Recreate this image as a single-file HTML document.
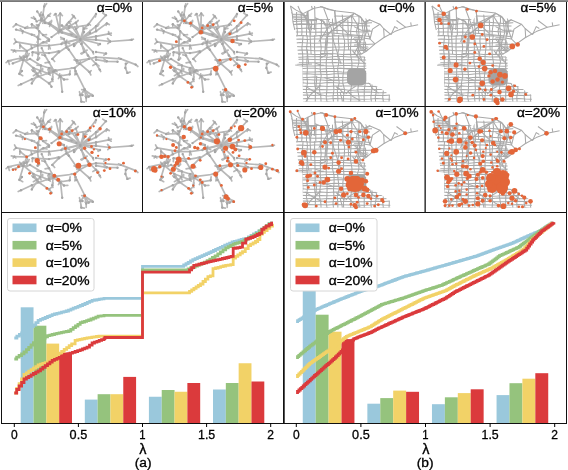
<!DOCTYPE html>
<html><head><meta charset="utf-8"><style>
html,body{margin:0;padding:0;background:#fff;}
svg{display:block;will-change:transform;}
.lg{font-family:"Liberation Sans",sans-serif;font-size:12px;fill:#000;stroke:#000;stroke-width:0.3px;}
.tl{font-family:"Liberation Sans",sans-serif;font-size:12px;fill:#000;text-anchor:middle;stroke:#000;stroke-width:0.3px;}
.tk{font-family:"Liberation Sans",sans-serif;font-size:12px;fill:#000;text-anchor:middle;stroke:#000;stroke-width:0.3px;}
</style></head><body>
<svg width="568" height="470" viewBox="0 0 568 470">
<rect width="568" height="470" fill="#fff"/>
<defs><g id="gA"><g fill="none" stroke="#b8b8b8" stroke-width="1.7" stroke-linecap="round" stroke-linejoin="round">
<polyline points="44.2,6.5 42.9,14.8 40.9,19.7"/>
<polyline points="37.2,11.4 40.0,15.2 41.7,18.5"/>
<polyline points="48.3,15.6 44.2,20.5 41.7,20.5"/>
<polyline points="35.1,18.9 36.7,21.4"/>
<polyline points="41.7,20.5 38.4,25.5 36.7,28.0"/>
<polyline points="16.1,24.3 25.2,28.0 36.7,27.6"/>
<polyline points="16.1,29.6 22.7,31.3 31.8,34.6 37.6,37.5"/>
<polyline points="31.8,24.3 36.7,28.0 39.2,31.3 37.6,45.6"/>
<polyline points="39.2,31.3 43.0,35.0 49.0,39.5"/>
<polyline points="41.7,20.5 49.0,23.5 60.0,30.0"/>
<polyline points="45.1,23.0 49.4,24.2 58.7,31.6"/>
<polyline points="55.6,13.9 59.8,31.3"/>
<polyline points="60.2,13.5 59.8,31.3"/>
<polyline points="73.8,16.4 66.8,24.7 61.0,30.0"/>
<polyline points="75.9,22.6 69.3,26.3 60.0,31.0"/>
<polyline points="50.2,24.3 59.8,31.3"/>
<polyline points="59.8,31.3 71.5,34.6 76.3,37.1 80.3,38.9"/>
<polyline points="59.8,31.3 51.5,37.1"/>
<polyline points="68.9,28.0 87.9,25.1"/>
<polyline points="96.0,13.9 88.7,23.9 83.7,28.8 80.3,38.9"/>
<polyline points="105.9,15.2 96.0,26.3 80.3,38.9"/>
<polyline points="106.8,23.4 96.0,31.3 80.3,38.9"/>
<polyline points="108.8,33.8 96.0,36.3 80.3,38.9"/>
<polyline points="131.6,39.8 110.1,41.5 96.0,39.8 80.3,38.9"/>
<polyline points="62.0,25.5 80.3,38.9"/>
<polyline points="62.0,32.6 80.3,38.9"/>
<polyline points="69.0,22.0 80.3,38.9"/>
<polyline points="76.0,29.0 80.3,38.9"/>
<polyline points="80.3,38.9 84.0,32.0"/>
<polyline points="80.3,38.9 90.0,33.0"/>
<polyline points="80.3,38.9 100.0,44.0"/>
<polyline points="80.3,38.9 84.0,52.0"/>
<polyline points="80.3,38.9 93.0,52.0"/>
<polyline points="80.3,38.9 74.0,46.0"/>
<polyline points="80.3,38.9 66.0,42.0"/>
<polyline points="16.1,41.9 37.6,45.6"/>
<polyline points="37.6,45.6 43.4,42.3 49.0,40.7"/>
<polyline points="38.4,39.0 37.6,45.6"/>
<polyline points="37.6,45.6 49.0,45.6 61.4,44.0 80.3,38.9"/>
<polyline points="14.4,50.6 26.8,51.0 31.8,48.3 37.6,45.6"/>
<polyline points="20.2,45.6 26.8,51.0"/>
<polyline points="26.8,51.0 24.3,57.2 19.4,73.7"/>
<polyline points="8.2,60.9 21.0,58.0 26.8,56.4"/>
<polyline points="12.8,63.4 22.7,59.7"/>
<polyline points="32.6,52.2 49.0,53.1 58.9,51.4"/>
<polyline points="37.6,45.6 38.4,53.9 37.6,59.7"/>
<polyline points="41.7,48.1 45.0,55.5 49.0,62.2 54.0,71.3"/>
<polyline points="30.1,58.9 40.9,65.5 49.0,68.0 55.6,70.4"/>
<polyline points="23.5,59.7 33.4,68.0 36.7,73.7"/>
<polyline points="33.4,68.0 49.0,73.7 53.1,71.8"/>
<polyline points="52.3,58.9 58.9,52.2 66.4,47.3 73.8,44.0 80.3,40.0"/>
<polyline points="63.9,39.0 65.5,43.1 68.9,49.8 76.3,60.5 89.5,72.1"/>
<polyline points="81.3,44.0 87.9,55.5 96.0,63.8"/>
<polyline points="77.1,60.5 88.7,58.9 96.0,57.2 120.8,58.9 135.7,64.6"/>
<polyline points="55.6,70.4 74.6,68.0 79.6,63.8 88.7,58.9"/>
<polyline points="74.6,68.0 76.3,74.0"/>
<polyline points="96.0,59.7 106.8,61.3 117.5,61.7"/>
<polyline points="96.0,63.8 99.7,69.6"/>
<polyline points="125.8,63.8 125.4,68.0 127.4,72.9"/>
<polyline points="96.0,52.0 106.0,53.5"/>
<polyline points="21.0,84.2 31.8,79.3 49.0,72.7"/>
<polyline points="33.4,71.0 38.4,76.0 49.0,83.4"/>
<polyline points="40.0,71.0 31.8,83.4"/>
<polyline points="21.9,71.0 19.4,74.3"/>
<polyline points="53.1,71.8 59.8,76.0 69.7,74.3"/>
<polyline points="53.1,71.8 52.3,79.3"/>
<polyline points="60.6,76.8 62.2,91.7"/>
<polyline points="60.6,76.8 64.0,79.5"/>
<polyline points="49.0,82.6 51.5,86.7"/>
<polyline points="75.5,71.0 84.6,89.2"/>
<polyline points="84.6,90.0 80.4,95.0 81.3,101.6"/>
<polyline points="84.6,90.0 92.8,95.8"/>
<polyline points="84.6,90.0 86.2,97.5"/>
<polyline points="84.6,90.0 88.7,96.6"/>
<polyline points="79.5,95.0 82.5,95.0"/>
<line x1="44.2" y1="6.5" x2="46.6" y2="3.7"/>
<line x1="44.2" y1="6.5" x2="44.7" y2="3.8"/>
<line x1="42.9" y1="14.8" x2="44.2" y2="18.1"/>
<line x1="42.9" y1="14.8" x2="39.8" y2="15.3"/>
<line x1="40.9" y1="19.7" x2="42.9" y2="21.1"/>
<line x1="40.0" y1="15.2" x2="41.2" y2="12.1"/>
<line x1="40.0" y1="15.2" x2="43.8" y2="16.2"/>
<line x1="41.7" y1="18.5" x2="39.9" y2="15.9"/>
<line x1="41.7" y1="18.5" x2="42.7" y2="20.0"/>
<line x1="48.3" y1="15.6" x2="50.0" y2="16.3"/>
<line x1="48.3" y1="15.6" x2="50.6" y2="13.5"/>
<line x1="44.2" y1="20.5" x2="42.8" y2="23.3"/>
<line x1="44.2" y1="20.5" x2="45.0" y2="22.7"/>
<line x1="41.7" y1="20.5" x2="38.4" y2="20.5"/>
<line x1="35.1" y1="18.9" x2="33.6" y2="16.7"/>
<line x1="35.1" y1="18.9" x2="31.4" y2="17.7"/>
<line x1="38.4" y1="25.5" x2="38.3" y2="29.0"/>
<line x1="38.4" y1="25.5" x2="36.5" y2="25.3"/>
<line x1="38.4" y1="25.5" x2="36.5" y2="24.7"/>
<line x1="16.1" y1="24.3" x2="13.1" y2="26.9"/>
<line x1="25.2" y1="28.0" x2="27.5" y2="28.0"/>
<line x1="25.2" y1="28.0" x2="27.6" y2="26.5"/>
<line x1="25.2" y1="28.0" x2="27.9" y2="27.7"/>
<line x1="22.7" y1="31.3" x2="20.3" y2="28.7"/>
<line x1="22.7" y1="31.3" x2="22.5" y2="33.3"/>
<line x1="31.8" y1="34.6" x2="34.5" y2="34.9"/>
<line x1="31.8" y1="24.3" x2="31.8" y2="26.3"/>
<line x1="37.6" y1="45.6" x2="38.2" y2="43.5"/>
<line x1="37.6" y1="45.6" x2="35.0" y2="44.6"/>
<line x1="43.0" y1="35.0" x2="46.5" y2="34.7"/>
<line x1="49.0" y1="39.5" x2="47.7" y2="37.9"/>
<line x1="49.0" y1="39.5" x2="47.0" y2="40.6"/>
<line x1="49.0" y1="23.5" x2="51.6" y2="20.5"/>
<line x1="60.0" y1="30.0" x2="58.7" y2="33.5"/>
<line x1="60.0" y1="30.0" x2="60.7" y2="32.6"/>
<line x1="45.1" y1="23.0" x2="43.8" y2="21.4"/>
<line x1="45.1" y1="23.0" x2="47.4" y2="22.8"/>
<line x1="58.7" y1="31.6" x2="61.8" y2="31.8"/>
<line x1="55.6" y1="13.9" x2="54.1" y2="15.2"/>
<line x1="59.8" y1="31.3" x2="57.8" y2="30.1"/>
<line x1="60.2" y1="13.5" x2="58.1" y2="15.8"/>
<line x1="60.2" y1="13.5" x2="62.4" y2="15.7"/>
<line x1="73.8" y1="16.4" x2="75.5" y2="18.4"/>
<line x1="73.8" y1="16.4" x2="72.1" y2="14.6"/>
<line x1="66.8" y1="24.7" x2="67.8" y2="22.6"/>
<line x1="61.0" y1="30.0" x2="62.7" y2="32.7"/>
<line x1="75.9" y1="22.6" x2="77.2" y2="26.3"/>
<line x1="75.9" y1="22.6" x2="78.2" y2="20.5"/>
<line x1="69.3" y1="26.3" x2="71.3" y2="26.9"/>
<line x1="69.3" y1="26.3" x2="66.9" y2="26.1"/>
<line x1="50.2" y1="24.3" x2="49.5" y2="22.0"/>
<line x1="50.2" y1="24.3" x2="51.6" y2="21.5"/>
<line x1="50.2" y1="24.3" x2="49.6" y2="26.4"/>
<line x1="71.5" y1="34.6" x2="73.6" y2="34.3"/>
<line x1="71.5" y1="34.6" x2="68.3" y2="35.0"/>
<line x1="71.5" y1="34.6" x2="70.0" y2="33.3"/>
<line x1="76.3" y1="37.1" x2="78.3" y2="36.0"/>
<line x1="68.9" y1="28.0" x2="66.9" y2="29.2"/>
<line x1="96.0" y1="13.9" x2="95.4" y2="16.8"/>
<line x1="88.7" y1="23.9" x2="90.5" y2="25.1"/>
<line x1="83.7" y1="28.8" x2="86.9" y2="28.4"/>
<line x1="83.7" y1="28.8" x2="82.6" y2="25.9"/>
<line x1="105.9" y1="15.2" x2="102.7" y2="13.1"/>
<line x1="96.0" y1="26.3" x2="98.8" y2="24.5"/>
<line x1="96.0" y1="26.3" x2="97.8" y2="25.9"/>
<line x1="106.8" y1="23.4" x2="108.5" y2="24.3"/>
<line x1="106.8" y1="23.4" x2="106.0" y2="25.3"/>
<line x1="106.8" y1="23.4" x2="109.3" y2="24.6"/>
<line x1="96.0" y1="31.3" x2="95.7" y2="27.5"/>
<line x1="108.8" y1="33.8" x2="108.6" y2="31.7"/>
<line x1="108.8" y1="33.8" x2="111.3" y2="33.2"/>
<line x1="108.8" y1="33.8" x2="111.2" y2="35.2"/>
<line x1="131.6" y1="39.8" x2="133.4" y2="39.2"/>
<line x1="131.6" y1="39.8" x2="129.8" y2="39.8"/>
<line x1="110.1" y1="41.5" x2="107.8" y2="43.6"/>
<line x1="110.1" y1="41.5" x2="108.6" y2="40.3"/>
<line x1="110.1" y1="41.5" x2="107.5" y2="38.4"/>
<line x1="96.0" y1="39.8" x2="95.6" y2="37.2"/>
<line x1="96.0" y1="39.8" x2="95.7" y2="36.7"/>
<line x1="62.0" y1="25.5" x2="59.1" y2="26.2"/>
<line x1="62.0" y1="25.5" x2="59.1" y2="25.2"/>
<line x1="62.0" y1="32.6" x2="59.7" y2="30.9"/>
<line x1="69.0" y1="22.0" x2="71.0" y2="21.5"/>
<line x1="76.0" y1="29.0" x2="74.5" y2="26.6"/>
<line x1="76.0" y1="29.0" x2="78.1" y2="27.4"/>
<line x1="84.0" y1="32.0" x2="83.0" y2="30.0"/>
<line x1="90.0" y1="33.0" x2="90.1" y2="30.4"/>
<line x1="100.0" y1="44.0" x2="97.7" y2="44.0"/>
<line x1="100.0" y1="44.0" x2="98.1" y2="45.3"/>
<line x1="84.0" y1="52.0" x2="80.8" y2="53.5"/>
<line x1="84.0" y1="52.0" x2="87.2" y2="50.1"/>
<line x1="84.0" y1="52.0" x2="81.7" y2="54.0"/>
<line x1="93.0" y1="52.0" x2="93.5" y2="54.0"/>
<line x1="74.0" y1="46.0" x2="75.9" y2="42.9"/>
<line x1="66.0" y1="42.0" x2="69.6" y2="43.6"/>
<line x1="66.0" y1="42.0" x2="66.9" y2="40.2"/>
<line x1="66.0" y1="42.0" x2="62.2" y2="42.7"/>
<line x1="16.1" y1="41.9" x2="13.9" y2="43.9"/>
<line x1="16.1" y1="41.9" x2="14.5" y2="38.9"/>
<line x1="43.4" y1="42.3" x2="41.5" y2="42.9"/>
<line x1="43.4" y1="42.3" x2="47.0" y2="43.0"/>
<line x1="38.4" y1="39.0" x2="37.6" y2="36.0"/>
<line x1="38.4" y1="39.0" x2="37.1" y2="42.3"/>
<line x1="38.4" y1="39.0" x2="40.5" y2="39.3"/>
<line x1="49.0" y1="45.6" x2="50.3" y2="48.8"/>
<line x1="49.0" y1="45.6" x2="48.6" y2="49.1"/>
<line x1="14.4" y1="50.6" x2="15.9" y2="52.0"/>
<line x1="14.4" y1="50.6" x2="11.3" y2="49.9"/>
<line x1="14.4" y1="50.6" x2="13.1" y2="52.0"/>
<line x1="26.8" y1="51.0" x2="27.7" y2="53.7"/>
<line x1="31.8" y1="48.3" x2="31.0" y2="44.9"/>
<line x1="20.2" y1="45.6" x2="19.7" y2="43.5"/>
<line x1="20.2" y1="45.6" x2="19.8" y2="48.1"/>
<line x1="24.3" y1="57.2" x2="27.0" y2="56.2"/>
<line x1="24.3" y1="57.2" x2="26.4" y2="57.2"/>
<line x1="24.3" y1="57.2" x2="26.2" y2="54.5"/>
<line x1="19.4" y1="73.7" x2="22.7" y2="75.7"/>
<line x1="8.2" y1="60.9" x2="6.1" y2="62.7"/>
<line x1="8.2" y1="60.9" x2="9.4" y2="64.4"/>
<line x1="8.2" y1="60.9" x2="11.2" y2="61.0"/>
<line x1="21.0" y1="58.0" x2="23.6" y2="55.6"/>
<line x1="21.0" y1="58.0" x2="23.6" y2="57.0"/>
<line x1="21.0" y1="58.0" x2="19.7" y2="56.2"/>
<line x1="26.8" y1="56.4" x2="29.2" y2="53.7"/>
<line x1="26.8" y1="56.4" x2="28.6" y2="55.5"/>
<line x1="26.8" y1="56.4" x2="26.9" y2="59.1"/>
<line x1="22.7" y1="59.7" x2="19.3" y2="58.9"/>
<line x1="32.6" y1="52.2" x2="32.3" y2="55.6"/>
<line x1="58.9" y1="51.4" x2="57.0" y2="51.3"/>
<line x1="38.4" y1="53.9" x2="35.1" y2="52.8"/>
<line x1="37.6" y1="59.7" x2="39.6" y2="58.6"/>
<line x1="37.6" y1="59.7" x2="39.4" y2="57.7"/>
<line x1="45.0" y1="55.5" x2="41.8" y2="54.8"/>
<line x1="49.0" y1="62.2" x2="45.1" y2="62.9"/>
<line x1="54.0" y1="71.3" x2="50.7" y2="70.9"/>
<line x1="54.0" y1="71.3" x2="50.5" y2="72.7"/>
<line x1="54.0" y1="71.3" x2="51.1" y2="69.7"/>
<line x1="30.1" y1="58.9" x2="27.3" y2="60.0"/>
<line x1="40.9" y1="65.5" x2="38.9" y2="64.7"/>
<line x1="40.9" y1="65.5" x2="37.1" y2="65.2"/>
<line x1="40.9" y1="65.5" x2="40.8" y2="68.8"/>
<line x1="49.0" y1="68.0" x2="50.0" y2="71.5"/>
<line x1="49.0" y1="68.0" x2="51.9" y2="67.4"/>
<line x1="55.6" y1="70.4" x2="52.9" y2="70.4"/>
<line x1="55.6" y1="70.4" x2="57.0" y2="71.6"/>
<line x1="23.5" y1="59.7" x2="27.4" y2="60.4"/>
<line x1="23.5" y1="59.7" x2="20.8" y2="59.4"/>
<line x1="33.4" y1="68.0" x2="34.8" y2="69.4"/>
<line x1="33.4" y1="68.0" x2="35.3" y2="71.3"/>
<line x1="36.7" y1="73.7" x2="33.4" y2="75.7"/>
<line x1="36.7" y1="73.7" x2="38.8" y2="72.6"/>
<line x1="49.0" y1="73.7" x2="46.5" y2="73.8"/>
<line x1="49.0" y1="73.7" x2="52.1" y2="71.4"/>
<line x1="53.1" y1="71.8" x2="51.1" y2="71.5"/>
<line x1="53.1" y1="71.8" x2="51.5" y2="72.7"/>
<line x1="52.3" y1="58.9" x2="54.7" y2="61.5"/>
<line x1="73.8" y1="44.0" x2="74.8" y2="45.5"/>
<line x1="80.3" y1="40.0" x2="79.2" y2="42.3"/>
<line x1="63.9" y1="39.0" x2="61.0" y2="39.0"/>
<line x1="63.9" y1="39.0" x2="60.7" y2="37.2"/>
<line x1="65.5" y1="43.1" x2="65.5" y2="45.3"/>
<line x1="65.5" y1="43.1" x2="62.8" y2="42.6"/>
<line x1="68.9" y1="49.8" x2="66.5" y2="47.1"/>
<line x1="68.9" y1="49.8" x2="66.7" y2="47.8"/>
<line x1="76.3" y1="60.5" x2="74.1" y2="60.0"/>
<line x1="76.3" y1="60.5" x2="76.9" y2="63.4"/>
<line x1="76.3" y1="60.5" x2="74.5" y2="59.4"/>
<line x1="89.5" y1="72.1" x2="87.7" y2="70.3"/>
<line x1="89.5" y1="72.1" x2="90.8" y2="74.9"/>
<line x1="89.5" y1="72.1" x2="91.2" y2="70.7"/>
<line x1="81.3" y1="44.0" x2="82.9" y2="42.6"/>
<line x1="87.9" y1="55.5" x2="89.2" y2="57.0"/>
<line x1="96.0" y1="63.8" x2="99.0" y2="65.9"/>
<line x1="96.0" y1="63.8" x2="92.9" y2="65.5"/>
<line x1="77.1" y1="60.5" x2="78.1" y2="63.5"/>
<line x1="120.8" y1="58.9" x2="118.5" y2="57.8"/>
<line x1="135.7" y1="64.6" x2="137.9" y2="66.5"/>
<line x1="74.6" y1="68.0" x2="71.3" y2="67.9"/>
<line x1="79.6" y1="63.8" x2="80.5" y2="61.1"/>
<line x1="106.8" y1="61.3" x2="103.9" y2="58.8"/>
<line x1="106.8" y1="61.3" x2="104.6" y2="61.6"/>
<line x1="99.7" y1="69.6" x2="100.7" y2="71.5"/>
<line x1="125.8" y1="63.8" x2="127.6" y2="62.9"/>
<line x1="127.4" y1="72.9" x2="130.1" y2="72.1"/>
<line x1="106.0" y1="53.5" x2="103.9" y2="55.2"/>
<line x1="21.0" y1="84.2" x2="18.2" y2="85.5"/>
<line x1="49.0" y1="72.7" x2="47.9" y2="69.2"/>
<line x1="49.0" y1="72.7" x2="50.2" y2="75.2"/>
<line x1="49.0" y1="72.7" x2="48.8" y2="70.0"/>
<line x1="33.4" y1="71.0" x2="31.8" y2="69.8"/>
<line x1="49.0" y1="83.4" x2="51.8" y2="81.2"/>
<line x1="40.0" y1="71.0" x2="42.7" y2="68.3"/>
<line x1="40.0" y1="71.0" x2="42.8" y2="69.9"/>
<line x1="40.0" y1="71.0" x2="41.1" y2="73.9"/>
<line x1="31.8" y1="83.4" x2="32.6" y2="81.2"/>
<line x1="59.8" y1="76.0" x2="59.7" y2="73.9"/>
<line x1="59.8" y1="76.0" x2="61.7" y2="75.2"/>
<line x1="59.8" y1="76.0" x2="58.4" y2="78.6"/>
<line x1="69.7" y1="74.3" x2="70.1" y2="70.8"/>
<line x1="52.3" y1="79.3" x2="52.9" y2="81.4"/>
<line x1="52.3" y1="79.3" x2="53.0" y2="76.9"/>
<line x1="64.0" y1="79.5" x2="67.8" y2="79.3"/>
<line x1="75.5" y1="71.0" x2="74.9" y2="74.9"/>
<line x1="84.6" y1="89.2" x2="82.9" y2="92.0"/>
<line x1="84.6" y1="90.0" x2="85.4" y2="91.8"/>
<line x1="84.6" y1="90.0" x2="81.7" y2="89.7"/>
<line x1="80.4" y1="95.0" x2="79.4" y2="91.7"/>
<line x1="81.3" y1="101.6" x2="84.4" y2="102.1"/>
<line x1="81.3" y1="101.6" x2="81.1" y2="99.2"/>
<line x1="92.8" y1="95.8" x2="89.3" y2="95.7"/>
<line x1="92.8" y1="95.8" x2="91.7" y2="94.3"/>
<line x1="86.2" y1="97.5" x2="86.2" y2="101.3"/>
<line x1="88.7" y1="96.6" x2="86.1" y2="95.9"/>
<line x1="88.7" y1="96.6" x2="85.1" y2="96.1"/>
</g><g fill="#a6a6a6">
<circle cx="44.2" cy="6.5" r="1.2"/>
<circle cx="42.9" cy="14.8" r="1.2"/>
<circle cx="40.9" cy="19.7" r="1.2"/>
<circle cx="37.2" cy="11.4" r="1.2"/>
<circle cx="40.0" cy="15.2" r="1.2"/>
<circle cx="41.7" cy="18.5" r="1.2"/>
<circle cx="48.3" cy="15.6" r="1.2"/>
<circle cx="44.2" cy="20.5" r="1.2"/>
<circle cx="41.7" cy="20.5" r="1.2"/>
<circle cx="35.1" cy="18.9" r="1.2"/>
<circle cx="36.7" cy="21.4" r="1.2"/>
<circle cx="38.4" cy="25.5" r="1.2"/>
<circle cx="36.7" cy="28.0" r="1.2"/>
<circle cx="16.1" cy="24.3" r="1.2"/>
<circle cx="25.2" cy="28.0" r="1.2"/>
<circle cx="16.1" cy="29.6" r="1.2"/>
<circle cx="22.7" cy="31.3" r="1.2"/>
<circle cx="31.8" cy="34.6" r="1.2"/>
<circle cx="37.6" cy="37.5" r="1.2"/>
<circle cx="31.8" cy="24.3" r="1.2"/>
<circle cx="39.2" cy="31.3" r="1.2"/>
<circle cx="37.6" cy="45.6" r="1.2"/>
<circle cx="43.0" cy="35.0" r="1.2"/>
<circle cx="49.0" cy="39.5" r="1.2"/>
<circle cx="49.0" cy="23.5" r="1.2"/>
<circle cx="60.0" cy="30.0" r="1.2"/>
<circle cx="45.1" cy="23.0" r="1.2"/>
<circle cx="58.7" cy="31.6" r="1.2"/>
<circle cx="55.6" cy="13.9" r="1.2"/>
<circle cx="59.8" cy="31.3" r="1.2"/>
<circle cx="60.2" cy="13.5" r="1.2"/>
<circle cx="73.8" cy="16.4" r="1.2"/>
<circle cx="66.8" cy="24.7" r="1.2"/>
<circle cx="61.0" cy="30.0" r="1.2"/>
<circle cx="75.9" cy="22.6" r="1.2"/>
<circle cx="69.3" cy="26.3" r="1.2"/>
<circle cx="50.2" cy="24.3" r="1.2"/>
<circle cx="71.5" cy="34.6" r="1.2"/>
<circle cx="76.3" cy="37.1" r="1.2"/>
<circle cx="80.3" cy="38.9" r="1.2"/>
<circle cx="51.5" cy="37.1" r="1.2"/>
<circle cx="68.9" cy="28.0" r="1.2"/>
<circle cx="87.9" cy="25.1" r="1.2"/>
<circle cx="96.0" cy="13.9" r="1.2"/>
<circle cx="88.7" cy="23.9" r="1.2"/>
<circle cx="83.7" cy="28.8" r="1.2"/>
<circle cx="105.9" cy="15.2" r="1.2"/>
<circle cx="96.0" cy="26.3" r="1.2"/>
<circle cx="106.8" cy="23.4" r="1.2"/>
<circle cx="96.0" cy="31.3" r="1.2"/>
<circle cx="108.8" cy="33.8" r="1.2"/>
<circle cx="96.0" cy="36.3" r="1.2"/>
<circle cx="131.6" cy="39.8" r="1.2"/>
<circle cx="110.1" cy="41.5" r="1.2"/>
<circle cx="96.0" cy="39.8" r="1.2"/>
<circle cx="62.0" cy="25.5" r="1.2"/>
<circle cx="62.0" cy="32.6" r="1.2"/>
<circle cx="69.0" cy="22.0" r="1.2"/>
<circle cx="76.0" cy="29.0" r="1.2"/>
<circle cx="84.0" cy="32.0" r="1.2"/>
<circle cx="90.0" cy="33.0" r="1.2"/>
<circle cx="100.0" cy="44.0" r="1.2"/>
<circle cx="84.0" cy="52.0" r="1.2"/>
<circle cx="93.0" cy="52.0" r="1.2"/>
<circle cx="74.0" cy="46.0" r="1.2"/>
<circle cx="66.0" cy="42.0" r="1.2"/>
<circle cx="16.1" cy="41.9" r="1.2"/>
<circle cx="43.4" cy="42.3" r="1.2"/>
<circle cx="49.0" cy="40.7" r="1.2"/>
<circle cx="38.4" cy="39.0" r="1.2"/>
<circle cx="49.0" cy="45.6" r="1.2"/>
<circle cx="61.4" cy="44.0" r="1.2"/>
<circle cx="14.4" cy="50.6" r="1.2"/>
<circle cx="26.8" cy="51.0" r="1.2"/>
<circle cx="31.8" cy="48.3" r="1.2"/>
<circle cx="20.2" cy="45.6" r="1.2"/>
<circle cx="24.3" cy="57.2" r="1.2"/>
<circle cx="19.4" cy="73.7" r="1.2"/>
<circle cx="8.2" cy="60.9" r="1.2"/>
<circle cx="21.0" cy="58.0" r="1.2"/>
<circle cx="26.8" cy="56.4" r="1.2"/>
<circle cx="12.8" cy="63.4" r="1.2"/>
<circle cx="22.7" cy="59.7" r="1.2"/>
<circle cx="32.6" cy="52.2" r="1.2"/>
<circle cx="49.0" cy="53.1" r="1.2"/>
<circle cx="58.9" cy="51.4" r="1.2"/>
<circle cx="38.4" cy="53.9" r="1.2"/>
<circle cx="37.6" cy="59.7" r="1.2"/>
<circle cx="41.7" cy="48.1" r="1.2"/>
<circle cx="45.0" cy="55.5" r="1.2"/>
<circle cx="49.0" cy="62.2" r="1.2"/>
<circle cx="54.0" cy="71.3" r="1.2"/>
<circle cx="30.1" cy="58.9" r="1.2"/>
<circle cx="40.9" cy="65.5" r="1.2"/>
<circle cx="49.0" cy="68.0" r="1.2"/>
<circle cx="55.6" cy="70.4" r="1.2"/>
<circle cx="23.5" cy="59.7" r="1.2"/>
<circle cx="33.4" cy="68.0" r="1.2"/>
<circle cx="36.7" cy="73.7" r="1.2"/>
<circle cx="49.0" cy="73.7" r="1.2"/>
<circle cx="53.1" cy="71.8" r="1.2"/>
<circle cx="52.3" cy="58.9" r="1.2"/>
<circle cx="58.9" cy="52.2" r="1.2"/>
<circle cx="66.4" cy="47.3" r="1.2"/>
<circle cx="73.8" cy="44.0" r="1.2"/>
<circle cx="80.3" cy="40.0" r="1.2"/>
<circle cx="63.9" cy="39.0" r="1.2"/>
<circle cx="65.5" cy="43.1" r="1.2"/>
<circle cx="68.9" cy="49.8" r="1.2"/>
<circle cx="76.3" cy="60.5" r="1.2"/>
<circle cx="89.5" cy="72.1" r="1.2"/>
<circle cx="81.3" cy="44.0" r="1.2"/>
<circle cx="87.9" cy="55.5" r="1.2"/>
<circle cx="96.0" cy="63.8" r="1.2"/>
<circle cx="77.1" cy="60.5" r="1.2"/>
<circle cx="88.7" cy="58.9" r="1.2"/>
<circle cx="96.0" cy="57.2" r="1.2"/>
<circle cx="120.8" cy="58.9" r="1.2"/>
<circle cx="135.7" cy="64.6" r="1.2"/>
<circle cx="74.6" cy="68.0" r="1.2"/>
<circle cx="79.6" cy="63.8" r="1.2"/>
<circle cx="76.3" cy="74.0" r="1.2"/>
<circle cx="96.0" cy="59.7" r="1.2"/>
<circle cx="106.8" cy="61.3" r="1.2"/>
<circle cx="117.5" cy="61.7" r="1.2"/>
<circle cx="99.7" cy="69.6" r="1.2"/>
<circle cx="125.8" cy="63.8" r="1.2"/>
<circle cx="125.4" cy="68.0" r="1.2"/>
<circle cx="127.4" cy="72.9" r="1.2"/>
<circle cx="96.0" cy="52.0" r="1.2"/>
<circle cx="106.0" cy="53.5" r="1.2"/>
<circle cx="21.0" cy="84.2" r="1.2"/>
<circle cx="31.8" cy="79.3" r="1.2"/>
<circle cx="49.0" cy="72.7" r="1.2"/>
<circle cx="33.4" cy="71.0" r="1.2"/>
<circle cx="38.4" cy="76.0" r="1.2"/>
<circle cx="49.0" cy="83.4" r="1.2"/>
<circle cx="40.0" cy="71.0" r="1.2"/>
<circle cx="31.8" cy="83.4" r="1.2"/>
<circle cx="21.9" cy="71.0" r="1.2"/>
<circle cx="59.8" cy="76.0" r="1.2"/>
<circle cx="69.7" cy="74.3" r="1.2"/>
<circle cx="52.3" cy="79.3" r="1.2"/>
<circle cx="60.6" cy="76.8" r="1.2"/>
<circle cx="62.2" cy="91.7" r="1.2"/>
<circle cx="64.0" cy="79.5" r="1.2"/>
<circle cx="51.5" cy="86.7" r="1.2"/>
<circle cx="75.5" cy="71.0" r="1.2"/>
<circle cx="84.6" cy="89.2" r="1.2"/>
<circle cx="84.6" cy="90.0" r="1.2"/>
<circle cx="80.4" cy="95.0" r="1.2"/>
<circle cx="81.3" cy="101.6" r="1.2"/>
<circle cx="92.8" cy="95.8" r="1.2"/>
<circle cx="86.2" cy="97.5" r="1.2"/>
<circle cx="88.7" cy="96.6" r="1.2"/>
<circle cx="82.5" cy="95.0" r="1.2"/>
</g></g>
<clipPath id="clipB"><polygon points="6.0,3.5 37.0,3.5 39.7,6.0 50.5,8.6 69.5,11.5 84.4,17.4 109.2,24.8 134.0,22.3 134.0,23.5 121.8,26.0 110.7,30.0 99.6,36.0 91.0,42.0 82.3,49.3 77.4,52.0 82.0,56.0 82.3,65.6 81.7,79.1 86.0,81.6 94.6,85.3 105.7,92.7 106.6,99.4 19.0,99.4 18.6,67.0 18.6,64.5 11.5,63.8 11.5,62.2 14.9,61.0 13.7,49.7 12.4,37.2 11.2,19.9 7.4,11.1"/></clipPath>
<clipPath id="clipD"><polygon points="2.0,33.0 78.0,33.0 86.0,48.0 116.0,48.0 116.0,103.0 2.0,103.0"/></clipPath>
<clipPath id="clipW"><polygon points="2.0,10.0 22.0,10.0 26.0,17.0 46.0,17.0 46.0,33.5 2.0,33.5"/></clipPath>
<clipPath id="clipN"><polygon points="52.0,12.0 88.0,16.0 88.0,34.0 46.0,34.0 46.0,20.0"/></clipPath>
<g id="gB" fill="none" stroke="#a9a9a9" stroke-width="1.05" stroke-linejoin="round">
<g clip-path="url(#clipB)">
<g clip-path="url(#clipD)">
<polyline points="2.0,34.1 9.0,34.3 16.0,33.6 23.0,34.1 30.0,34.3 37.0,33.5 44.0,34.4 51.0,33.7 58.0,34.0 65.0,33.7 72.0,34.0 79.0,34.1 86.0,33.6 93.0,34.4 100.0,33.9 107.0,34.0 114.0,34.1 121.0,33.9"/>
<polyline points="2.0,37.5 9.0,37.4 16.0,37.1 23.0,37.6 30.0,37.1 37.0,36.9 44.0,37.1 51.0,36.9 58.0,37.0 65.0,37.6 72.0,37.2 79.0,37.7 86.0,37.6 93.0,36.9 100.0,37.8 107.0,37.8 114.0,36.9 121.0,37.7"/>
<polyline points="2.0,40.8 9.0,41.3 16.0,40.6 23.0,40.9 30.0,41.3 37.0,41.1 44.0,40.8 51.0,41.3 58.0,41.2 65.0,41.0 72.0,40.5 79.0,41.0 86.0,40.8 93.0,40.6 100.0,40.4 107.0,40.9 114.0,40.5 121.0,40.8"/>
<polyline points="2.0,44.6 9.0,44.4 16.0,44.7 23.0,44.6 30.0,44.9 37.0,44.7 44.0,45.2 51.0,45.1 58.0,44.9 65.0,44.4 72.0,44.3 79.0,45.1 86.0,44.9 93.0,44.8 100.0,44.5 107.0,44.4 114.0,44.8 121.0,44.7"/>
<polyline points="2.0,48.5 9.0,48.6 16.0,48.1 23.0,48.1 30.0,48.8 37.0,48.8 44.0,48.7 51.0,47.9 58.0,47.9 65.0,48.1 72.0,48.3 79.0,48.5 86.0,48.0 93.0,48.4 100.0,47.9 107.0,48.0 114.0,48.5 121.0,48.4"/>
<polyline points="2.0,52.0 9.0,52.1 16.0,51.8 23.0,52.0 30.0,52.4 37.0,52.5 44.0,51.7 51.0,51.7 58.0,52.4 65.0,52.3 72.0,52.4 79.0,51.8 86.0,52.1 93.0,51.9 100.0,52.4 107.0,52.0 114.0,52.3 121.0,52.6"/>
<polyline points="2.0,54.9 9.0,55.1 16.0,55.3 23.0,54.8 30.0,54.7 37.0,54.4 44.0,55.2 51.0,54.4 58.0,54.4 65.0,54.9 72.0,54.8 79.0,55.0 86.0,54.7 93.0,55.1 100.0,54.4 107.0,54.6 114.0,55.0 121.0,54.4"/>
<polyline points="2.0,57.8 9.0,57.8 16.0,57.3 23.0,57.2 30.0,57.4 37.0,57.8 44.0,57.4 51.0,57.2 58.0,57.8 65.0,57.6 72.0,58.0 79.0,58.0 86.0,58.0 93.0,57.5 100.0,57.9 107.0,57.4 114.0,57.4 121.0,57.5"/>
<polyline points="2.0,61.3 9.0,60.6 16.0,60.8 23.0,60.8 30.0,60.8 37.0,60.8 44.0,60.8 51.0,60.6 58.0,61.0 65.0,61.2 72.0,60.9 79.0,61.2 86.0,61.0 93.0,60.6 100.0,61.1 107.0,61.3 114.0,60.7 121.0,60.4"/>
<polyline points="2.0,63.9 9.0,63.9 16.0,64.3 23.0,64.0 30.0,64.1 37.0,63.4 44.0,63.9 51.0,64.1 58.0,63.4 65.0,63.4 72.0,64.0 79.0,64.2 86.0,63.4 93.0,63.9 100.0,63.5 107.0,64.1 114.0,64.0 121.0,63.6"/>
<polyline points="2.0,66.7 9.0,66.4 16.0,66.7 23.0,66.3 30.0,66.3 37.0,66.9 44.0,66.6 51.0,66.4 58.0,66.5 65.0,66.6 72.0,66.6 79.0,66.8 86.0,66.3 93.0,66.8 100.0,66.6 107.0,66.8 114.0,66.7 121.0,66.8"/>
<polyline points="2.0,70.2 9.0,69.9 16.0,69.7 23.0,69.9 30.0,70.0 37.0,69.6 44.0,69.6 51.0,69.4 58.0,70.0 65.0,70.2 72.0,69.6 79.0,69.4 86.0,69.4 93.0,69.6 100.0,69.5 107.0,70.2 114.0,69.3 121.0,69.5"/>
<polyline points="2.0,72.4 9.0,72.5 16.0,71.9 23.0,71.8 30.0,72.2 37.0,72.3 44.0,72.6 51.0,71.8 58.0,71.8 65.0,71.9 72.0,71.9 79.0,72.0 86.0,72.4 93.0,72.3 100.0,72.0 107.0,71.9 114.0,72.0 121.0,71.9"/>
<polyline points="2.0,75.2 9.0,75.4 16.0,75.7 23.0,75.4 30.0,75.1 37.0,75.8 44.0,75.8 51.0,75.2 58.0,75.4 65.0,75.8 72.0,75.4 79.0,75.1 86.0,74.9 93.0,75.8 100.0,75.7 107.0,75.3 114.0,75.4 121.0,75.4"/>
<polyline points="2.0,78.6 9.0,78.2 16.0,77.8 23.0,77.6 30.0,78.0 37.0,77.9 44.0,78.4 51.0,78.3 58.0,78.2 65.0,77.7 72.0,77.7 79.0,77.9 86.0,77.8 93.0,78.4 100.0,78.1 107.0,78.2 114.0,78.6 121.0,77.8"/>
<polyline points="2.0,80.6 9.0,81.3 16.0,80.5 23.0,81.3 30.0,81.3 37.0,81.3 44.0,80.6 51.0,80.8 58.0,81.2 65.0,80.6 72.0,81.0 79.0,81.0 86.0,81.5 93.0,81.1 100.0,81.4 107.0,80.8 114.0,81.3 121.0,80.9"/>
<polyline points="2.0,83.9 9.0,84.6 16.0,84.0 23.0,84.4 30.0,84.3 37.0,84.0 44.0,84.6 51.0,84.1 58.0,84.1 65.0,83.9 72.0,84.1 79.0,84.3 86.0,84.5 93.0,84.2 100.0,84.5 107.0,83.9 114.0,84.2 121.0,84.3"/>
<polyline points="2.0,88.0 9.0,87.8 16.0,87.2 23.0,87.6 30.0,87.9 37.0,87.4 44.0,87.7 51.0,87.6 58.0,87.2 65.0,88.2 72.0,88.0 79.0,87.4 86.0,87.8 93.0,87.5 100.0,87.6 107.0,87.7 114.0,87.5 121.0,87.5"/>
<polyline points="2.0,90.6 9.0,90.2 16.0,90.2 23.0,90.7 30.0,90.3 37.0,90.9 44.0,90.5 51.0,90.7 58.0,90.3 65.0,90.8 72.0,90.1 79.0,90.1 86.0,90.1 93.0,90.7 100.0,90.7 107.0,90.2 114.0,90.4 121.0,90.8"/>
<polyline points="2.0,93.1 9.0,93.2 16.0,93.1 23.0,93.1 30.0,93.4 37.0,93.0 44.0,93.9 51.0,93.4 58.0,93.5 65.0,93.6 72.0,93.7 79.0,93.8 86.0,93.4 93.0,93.3 100.0,93.4 107.0,93.0 114.0,93.4 121.0,93.7"/>
<polyline points="2.0,97.1 9.0,97.0 16.0,97.0 23.0,96.4 30.0,96.7 37.0,96.7 44.0,97.0 51.0,96.5 58.0,96.7 65.0,96.9 72.0,97.1 79.0,97.2 86.0,97.0 93.0,96.5 100.0,97.1 107.0,97.3 114.0,96.9 121.0,96.7"/>
<polyline points="2.0,99.4 9.0,100.0 16.0,100.2 23.0,99.8 30.0,100.0 37.0,100.1 44.0,99.4 51.0,100.2 58.0,99.9 65.0,99.4 72.0,99.3 79.0,99.5 86.0,99.8 93.0,99.9 100.0,99.6 107.0,100.2 114.0,99.6 121.0,99.7"/>
<polyline points="6.9,32.0 5.3,39.0 6.8,46.0 6.1,53.0 6.1,60.0 6.1,67.0 5.5,74.0 6.8,81.0 7.0,88.0 6.6,95.0 6.2,102.0"/>
<polyline points="11.5,32.0 10.4,39.0 11.7,46.0 10.3,53.0 11.0,60.0 11.5,67.0 10.2,74.0 11.0,81.0 10.0,88.0 9.9,95.0 10.2,102.0"/>
<polyline points="19.2,32.0 18.6,39.0 17.9,46.0 18.7,53.0 18.8,60.0 18.1,67.0 18.5,74.0 18.9,81.0 17.4,88.0 17.7,95.0 18.3,102.0"/>
<polyline points="23.0,32.0 23.4,39.0 22.6,46.0 23.3,53.0 22.8,60.0 23.4,67.0 22.9,74.0 23.5,81.0 22.3,88.0 23.6,95.0 22.5,102.0"/>
<polyline points="30.8,32.0 30.6,39.0 30.5,46.0 30.9,53.0 31.0,60.0 31.2,67.0 31.1,74.0 30.6,81.0 31.6,88.0 31.3,95.0 31.3,102.0"/>
<polyline points="36.2,32.0 36.5,39.0 37.2,46.0 36.4,53.0 36.4,60.0 36.2,67.0 37.2,74.0 36.0,81.0 35.5,88.0 36.8,95.0 37.2,102.0"/>
<polyline points="43.3,32.0 43.6,39.0 42.7,46.0 43.2,53.0 42.2,60.0 42.3,67.0 43.0,74.0 43.1,81.0 42.9,88.0 42.2,95.0 43.4,102.0"/>
<polyline points="48.6,32.0 48.8,39.0 48.9,46.0 48.6,53.0 48.3,60.0 50.0,67.0 50.1,74.0 49.5,81.0 49.9,88.0 49.0,95.0 49.7,102.0"/>
<polyline points="54.8,32.0 54.4,39.0 55.1,46.0 53.5,53.0 54.9,60.0 53.6,67.0 54.4,74.0 55.2,81.0 53.3,88.0 53.8,95.0 53.9,102.0"/>
<polyline points="58.9,32.0 60.6,39.0 60.4,46.0 59.6,53.0 59.5,60.0 59.9,67.0 58.9,74.0 58.8,81.0 60.6,88.0 59.4,95.0 59.8,102.0"/>
<polyline points="68.0,32.0 67.0,39.0 66.5,46.0 66.7,53.0 67.9,60.0 67.9,67.0 66.5,74.0 67.8,81.0 66.8,88.0 67.0,95.0 66.4,102.0"/>
<polyline points="75.2,32.0 73.6,39.0 74.5,46.0 73.6,53.0 75.0,60.0 73.3,67.0 73.4,74.0 74.7,81.0 73.8,88.0 75.0,95.0 75.0,102.0"/>
<polyline points="80.1,32.0 81.2,39.0 81.7,46.0 80.7,53.0 80.0,60.0 80.3,67.0 80.5,74.0 81.3,81.0 80.3,88.0 80.2,95.0 80.3,102.0"/>
<polyline points="87.9,32.0 87.1,39.0 87.7,46.0 88.1,53.0 87.5,60.0 86.8,67.0 87.0,74.0 88.2,81.0 87.7,88.0 86.9,95.0 87.6,102.0"/>
<polyline points="93.1,32.0 92.0,39.0 92.2,46.0 92.2,53.0 91.2,60.0 92.3,67.0 91.7,74.0 91.6,81.0 92.7,88.0 91.3,95.0 91.7,102.0"/>
<polyline points="98.4,32.0 98.4,39.0 99.0,46.0 98.3,53.0 99.7,60.0 99.9,67.0 98.0,74.0 98.8,81.0 99.4,88.0 98.7,95.0 99.7,102.0"/>
<polyline points="104.2,32.0 105.0,39.0 105.2,46.0 104.6,53.0 105.2,60.0 105.5,67.0 104.9,74.0 104.9,81.0 105.6,88.0 105.3,95.0 104.9,102.0"/>
<polyline points="20.8,83.9 28.7,88.7 38.3,93.9"/>
<polyline points="71.7,84.3 66.6,87.4 61.6,92.1"/>
<polyline points="55.3,65.9 65.9,67.3 75.1,68.1"/>
<polyline points="80.2,45.5 83.9,47.2 87.6,49.4"/>
<polyline points="43.5,50.8 41.0,53.8 35.9,56.4"/>
<polyline points="52.2,84.7 55.6,87.0 60.2,92.1"/>
<polyline points="32.7,73.8 32.5,79.1 31.7,87.0"/>
<polyline points="75.7,45.0 80.2,50.0 83.5,53.0"/>
<polyline points="72.9,37.9 74.1,46.7 77.1,52.6"/>
<polyline points="9.6,65.3 -1.6,74.6 -10.7,84.2"/>
<polyline points="69.3,36.5 77.6,45.0 88.1,54.2"/>
<polyline points="31.3,61.2 37.0,63.0 39.8,63.2"/>
<polyline points="68.4,48.7 74.3,55.4 81.7,62.3"/>
<polyline points="85.3,57.3 92.4,68.0 98.8,81.4"/>
<polyline points="40.3,75.6 48.2,78.0 54.9,78.3"/>
<polyline points="56.2,90.7 58.2,98.2 58.1,106.5"/>
<polyline points="72.4,47.8 75.3,52.0 77.8,58.1"/>
<polyline points="23.3,47.7 23.9,56.3 24.7,61.8"/>
<polyline points="63.7,89.2 68.7,94.5 76.3,98.6"/>
<polyline points="36.8,51.6 41.9,51.6 48.5,52.2"/>
<polyline points="84.5,79.8 88.5,86.8 94.6,91.1"/>
<polyline points="36.6,83.0 26.7,92.5 19.7,103.0"/>
</g>
<g clip-path="url(#clipW)">
<polyline points="2.0,5.9 9.0,5.6 16.0,6.4 23.0,5.8 30.0,6.3 37.0,6.0 44.0,5.6 51.0,5.9"/>
<polyline points="2.0,9.2 9.0,9.3 16.0,9.8 23.0,9.2 30.0,9.5 37.0,9.6 44.0,9.7 51.0,9.3"/>
<polyline points="2.0,13.7 9.0,14.2 16.0,14.1 23.0,13.6 30.0,13.6 37.0,13.7 44.0,14.1 51.0,13.8"/>
<polyline points="2.0,18.2 9.0,17.5 16.0,17.6 23.0,17.6 30.0,17.5 37.0,17.3 44.0,17.3 51.0,17.9"/>
<polyline points="2.0,22.2 9.0,22.4 16.0,21.7 23.0,22.0 30.0,22.3 37.0,21.6 44.0,22.1 51.0,22.0"/>
<polyline points="2.0,26.8 9.0,26.2 16.0,26.6 23.0,26.0 30.0,26.4 37.0,26.3 44.0,26.0 51.0,26.3"/>
<polyline points="2.0,30.2 9.0,30.0 16.0,29.9 23.0,30.1 30.0,30.2 37.0,29.9 44.0,30.4 51.0,30.0"/>
<polyline points="2.0,33.6 9.0,33.7 16.0,33.4 23.0,33.8 30.0,33.9 37.0,33.8 44.0,33.9 51.0,33.3"/>
<polyline points="7.8,2.0 7.5,9.0 7.9,16.0 7.5,23.0 8.0,30.0 8.1,37.0"/>
<polyline points="12.7,2.0 12.6,9.0 12.4,16.0 12.8,23.0 13.4,30.0 13.0,37.0"/>
<polyline points="17.7,2.0 17.1,9.0 17.4,16.0 17.6,23.0 18.0,30.0 17.3,37.0"/>
<polyline points="23.1,2.0 22.9,9.0 22.8,16.0 22.8,23.0 22.5,30.0 22.5,37.0"/>
<polyline points="27.6,2.0 27.6,9.0 27.0,16.0 27.7,23.0 26.6,30.0 26.7,37.0"/>
<polyline points="32.0,2.0 32.0,9.0 32.8,16.0 31.8,23.0 31.8,30.0 31.9,37.0"/>
<polyline points="37.2,2.0 36.9,9.0 37.6,16.0 37.4,23.0 37.2,30.0 37.5,37.0"/>
<polyline points="42.9,2.0 43.0,9.0 42.9,16.0 43.2,23.0 43.4,30.0 42.6,37.0"/>
<polyline points="48.0,2.0 47.3,9.0 47.8,16.0 47.8,23.0 47.8,30.0 48.1,37.0"/>
</g>
<g clip-path="url(#clipN)">
<polyline points="42.0,6.2 51.0,7.3 60.0,7.0 69.0,7.2 78.0,6.7 87.0,6.5 96.0,7.6"/>
<polyline points="42.0,14.0 51.0,14.0 60.0,14.2 69.0,13.8 78.0,14.6 87.0,13.7 96.0,13.6"/>
<polyline points="42.0,19.9 51.0,21.3 60.0,19.9 69.0,20.7 78.0,21.5 87.0,20.8 96.0,20.0"/>
<polyline points="42.0,30.3 51.0,28.3 60.0,28.8 69.0,29.4 78.0,30.1 87.0,29.1 96.0,29.9"/>
<polyline points="49.6,2.0 48.5,11.0 48.5,20.0 49.8,29.0 50.0,38.0"/>
<polyline points="58.5,2.0 58.1,11.0 58.9,20.0 58.7,29.0 59.3,38.0"/>
<polyline points="66.4,2.0 67.1,11.0 68.0,20.0 66.7,29.0 66.6,38.0"/>
<polyline points="73.8,2.0 74.9,11.0 75.0,20.0 72.5,29.0 74.1,38.0"/>
<polyline points="81.6,2.0 80.9,11.0 82.6,20.0 82.7,29.0 79.9,38.0"/>
</g>
</g>
<polyline points="36.0,4.4 50.4,8.7 70.0,11.1 76.2,14.5 80.1,20.2 86.0,17.4"/>
<polyline points="50.4,8.7 52.8,23.1 53.2,31.7"/>
<polyline points="70.0,11.1 55.2,23.1 45.6,30.8 36.0,34.6"/>
<polyline points="67.6,13.5 74.3,24.1 76.2,48.0"/>
<polyline points="36.0,18.3 39.8,19.3 41.7,23.1 86.0,24.1"/>
<polyline points="55.2,23.1 63.8,31.7 64.7,48.0"/>
<polyline points="63.8,17.4 64.3,31.7"/>
<polyline points="80.1,20.2 81.0,31.7 79.1,48.0"/>
<polyline points="45.6,30.8 86.0,34.6"/>
<polyline points="41.7,23.1 43.7,30.8 41.7,48.0"/>
<polyline points="39.7,6.2 47.2,26.1 49.7,39.7 57.1,62.1"/>
<polyline points="67.0,13.7 44.7,24.8 34.8,39.7"/>
<polyline points="134.1,22.8 121.8,25.3 110.7,29.6 99.6,35.7 91.0,41.9 82.3,49.3 77.4,52.0"/>
<polyline points="112.5,18.5 121.8,25.3"/>
<polyline points="126.7,20.3 127.3,24.0"/>
<polyline points="107.0,32.7 110.7,24.6 113.8,26.5"/>
<polyline points="70.0,11.1 77.4,16.0 81.1,21.0 86.0,17.9 95.9,22.2 99.6,26.5 107.0,32.7"/>
<polyline points="95.9,22.2 88.5,27.1 86.0,37.0 91.0,41.9"/>
<polyline points="99.6,26.5 100.2,35.7"/>
<polyline points="70.0,24.6 77.4,28.3 86.0,28.3"/>
<polyline points="77.4,16.0 79.2,30.8 76.2,40.7 70.0,52.0"/>
<polyline points="81.1,21.0 83.6,29.6 86.0,37.0"/>
<polyline points="70.0,35.7 77.4,35.7 86.0,37.0"/>
<polyline points="70.0,43.1 91.0,41.9"/>
<polyline points="23.4,9.9 24.0,18.5 25.9,30.8 27.1,52.0"/>
<polyline points="70.0,12.3 59.2,19.7 54.2,23.4 45.6,30.8 41.9,37.0 40.7,52.0"/>
<polyline points="12.3,63.1 19.0,62.6 28.0,62.0"/>
<polyline points="6.4,4.0 11.7,7.9 19.6,11.9 24.0,18.5 27.5,28.0"/>
<polyline points="13.9,4.0 16.1,8.8 23.1,18.5 24.9,28.0"/>
<polyline points="19.6,11.4 24.9,8.8 30.2,6.2 38.1,4.8 44.3,7.5 52.0,8.8"/>
<polyline points="27.5,4.0 28.4,7.0"/>
<polyline points="30.6,4.0 31.0,17.6 30.2,28.0"/>
<polyline points="24.0,8.8 24.4,19.4"/>
<polyline points="50.9,8.8 51.3,22.0"/>
<polyline points="31.0,15.8 39.0,18.9 40.7,22.9 52.0,22.0"/>
<polyline points="8.2,10.6 9.0,20.2 10.8,28.0"/>
<polyline points="8.2,12.3 19.6,12.3"/>
<polyline points="8.6,15.8 22.2,15.8"/>
<polyline points="9.0,19.4 31.9,18.5"/>
<polyline points="9.5,22.4 31.0,22.4"/>
<polyline points="6.4,4.0 8.2,10.6"/>
<rect x="63" y="66.2" width="19.3" height="17.2" rx="5" fill="#a4a4a4" stroke="none"/>
</g>
</defs>
<use href="#gA" x="0" y="0"/>
<use href="#gA" x="141" y="0"/>
<use href="#gA" x="0" y="106"/>
<use href="#gA" x="141" y="106"/>
<use href="#gB" x="284" y="2"/>
<use href="#gB" x="425.5" y="2"/>
<use href="#gB" x="284" y="108"/>
<use href="#gB" x="425.5" y="108"/>
<g fill="#e36639">
<circle cx="184.4" cy="20.8" r="1.42"/>
<circle cx="190.6" cy="23.2" r="1.42"/>
<circle cx="202.2" cy="27.9" r="1.42"/>
<circle cx="200.9" cy="32.3" r="2.27"/>
<circle cx="207.6" cy="25.7" r="1.42"/>
<circle cx="213.2" cy="24.7" r="1.42"/>
<circle cx="234.2" cy="20.8" r="1.42"/>
<circle cx="241.1" cy="22.7" r="1.42"/>
<circle cx="229.8" cy="33.8" r="1.42"/>
<circle cx="232.5" cy="41.0" r="2.27"/>
<circle cx="176.3" cy="41.7" r="1.42"/>
<circle cx="159.5" cy="60.7" r="1.42"/>
<circle cx="170.6" cy="67.3" r="1.70"/>
<circle cx="219.9" cy="60.2" r="1.42"/>
<circle cx="230.5" cy="59.5" r="1.42"/>
<circle cx="238.6" cy="66.6" r="1.98"/>
<circle cx="245.3" cy="64.6" r="1.42"/>
<circle cx="215.7" cy="68.6" r="2.83"/>
<circle cx="187.9" cy="82.4" r="1.42"/>
<circle cx="191.6" cy="87.3" r="1.42"/>
<circle cx="225.6" cy="89.8" r="1.70"/>
<circle cx="43.4" cy="126.8" r="1.42"/>
<circle cx="49.6" cy="129.2" r="1.42"/>
<circle cx="40.7" cy="138.3" r="1.98"/>
<circle cx="24.9" cy="139.1" r="1.13"/>
<circle cx="59.9" cy="137.6" r="1.70"/>
<circle cx="59.2" cy="143.8" r="2.55"/>
<circle cx="61.6" cy="133.9" r="1.42"/>
<circle cx="66.6" cy="131.7" r="1.42"/>
<circle cx="72.2" cy="130.7" r="1.42"/>
<circle cx="77.9" cy="134.6" r="1.42"/>
<circle cx="90.2" cy="128.0" r="1.42"/>
<circle cx="93.7" cy="126.3" r="1.13"/>
<circle cx="100.1" cy="128.7" r="1.70"/>
<circle cx="85.3" cy="136.6" r="1.42"/>
<circle cx="88.8" cy="139.8" r="1.42"/>
<circle cx="84.6" cy="148.2" r="1.70"/>
<circle cx="91.5" cy="146.5" r="1.42"/>
<circle cx="93.9" cy="149.4" r="1.13"/>
<circle cx="92.0" cy="152.4" r="1.70"/>
<circle cx="98.1" cy="155.8" r="1.13"/>
<circle cx="65.3" cy="148.5" r="1.42"/>
<circle cx="35.3" cy="147.7" r="1.42"/>
<circle cx="26.6" cy="156.8" r="1.42"/>
<circle cx="37.2" cy="160.5" r="2.55"/>
<circle cx="38.5" cy="163.0" r="1.70"/>
<circle cx="18.5" cy="166.7" r="1.42"/>
<circle cx="13.1" cy="169.9" r="1.13"/>
<circle cx="15.6" cy="169.6" r="1.13"/>
<circle cx="29.6" cy="173.3" r="1.42"/>
<circle cx="54.3" cy="175.8" r="1.98"/>
<circle cx="58.2" cy="179.8" r="1.98"/>
<circle cx="74.7" cy="174.1" r="1.70"/>
<circle cx="78.4" cy="165.7" r="2.83"/>
<circle cx="89.5" cy="164.7" r="2.27"/>
<circle cx="85.3" cy="158.1" r="1.13"/>
<circle cx="105.5" cy="163.0" r="1.13"/>
<circle cx="108.7" cy="159.3" r="1.42"/>
<circle cx="104.3" cy="170.6" r="1.42"/>
<circle cx="110.0" cy="168.7" r="1.42"/>
<circle cx="123.5" cy="163.2" r="1.42"/>
<circle cx="135.3" cy="171.1" r="1.42"/>
<circle cx="109.2" cy="147.5" r="1.13"/>
<circle cx="97.6" cy="172.6" r="1.42"/>
<circle cx="46.9" cy="188.4" r="1.42"/>
<circle cx="50.6" cy="193.3" r="1.42"/>
<circle cx="84.6" cy="195.8" r="1.42"/>
<circle cx="184.4" cy="126.8" r="1.70"/>
<circle cx="189.8" cy="128.7" r="2.27"/>
<circle cx="183.7" cy="137.1" r="2.27"/>
<circle cx="157.0" cy="135.4" r="1.13"/>
<circle cx="166.4" cy="139.1" r="1.13"/>
<circle cx="173.1" cy="145.0" r="1.98"/>
<circle cx="176.3" cy="147.5" r="1.42"/>
<circle cx="175.0" cy="150.7" r="1.42"/>
<circle cx="202.2" cy="133.9" r="1.42"/>
<circle cx="207.6" cy="131.7" r="1.42"/>
<circle cx="213.2" cy="130.7" r="1.42"/>
<circle cx="200.9" cy="137.6" r="1.13"/>
<circle cx="200.4" cy="143.8" r="1.70"/>
<circle cx="194.8" cy="147.5" r="1.70"/>
<circle cx="197.7" cy="148.2" r="1.70"/>
<circle cx="204.6" cy="148.2" r="1.70"/>
<circle cx="218.9" cy="134.6" r="1.42"/>
<circle cx="216.9" cy="141.3" r="3.12"/>
<circle cx="231.2" cy="128.0" r="1.42"/>
<circle cx="234.7" cy="126.3" r="1.13"/>
<circle cx="241.1" cy="128.2" r="3.12"/>
<circle cx="229.8" cy="139.8" r="2.27"/>
<circle cx="238.6" cy="140.1" r="1.42"/>
<circle cx="244.8" cy="140.6" r="1.42"/>
<circle cx="225.6" cy="148.2" r="2.55"/>
<circle cx="232.5" cy="146.5" r="2.83"/>
<circle cx="235.4" cy="149.4" r="1.98"/>
<circle cx="233.0" cy="152.4" r="1.42"/>
<circle cx="239.1" cy="155.8" r="1.42"/>
<circle cx="224.3" cy="151.9" r="1.13"/>
<circle cx="250.2" cy="147.0" r="1.98"/>
<circle cx="272.4" cy="145.0" r="1.13"/>
<circle cx="161.5" cy="156.8" r="2.27"/>
<circle cx="164.7" cy="156.3" r="1.70"/>
<circle cx="168.1" cy="156.8" r="1.70"/>
<circle cx="178.7" cy="159.3" r="2.83"/>
<circle cx="177.0" cy="163.0" r="2.27"/>
<circle cx="175.0" cy="165.5" r="1.70"/>
<circle cx="180.0" cy="161.0" r="1.70"/>
<circle cx="188.6" cy="158.3" r="1.42"/>
<circle cx="193.0" cy="166.2" r="2.55"/>
<circle cx="200.2" cy="160.3" r="1.42"/>
<circle cx="173.3" cy="169.2" r="2.55"/>
<circle cx="154.1" cy="169.2" r="3.12"/>
<circle cx="155.3" cy="170.4" r="2.27"/>
<circle cx="159.8" cy="166.7" r="1.70"/>
<circle cx="161.5" cy="176.6" r="1.13"/>
<circle cx="170.6" cy="173.3" r="1.42"/>
<circle cx="195.5" cy="175.8" r="1.42"/>
<circle cx="215.7" cy="174.1" r="2.55"/>
<circle cx="219.9" cy="165.7" r="1.42"/>
<circle cx="228.0" cy="158.1" r="1.42"/>
<circle cx="227.3" cy="161.0" r="1.42"/>
<circle cx="230.5" cy="164.7" r="2.55"/>
<circle cx="237.9" cy="165.5" r="1.42"/>
<circle cx="244.8" cy="169.9" r="2.55"/>
<circle cx="251.5" cy="168.7" r="1.42"/>
<circle cx="246.5" cy="163.0" r="1.13"/>
<circle cx="249.7" cy="159.3" r="1.42"/>
<circle cx="260.8" cy="167.4" r="2.55"/>
<circle cx="265.8" cy="163.7" r="1.42"/>
<circle cx="272.4" cy="169.2" r="1.42"/>
<circle cx="277.3" cy="170.6" r="1.70"/>
<circle cx="193.3" cy="185.7" r="1.13"/>
<circle cx="200.2" cy="179.8" r="1.42"/>
<circle cx="202.2" cy="182.5" r="1.42"/>
<circle cx="188.6" cy="188.4" r="1.42"/>
<circle cx="191.3" cy="193.3" r="1.42"/>
<circle cx="161.5" cy="190.1" r="1.13"/>
<circle cx="221.4" cy="185.4" r="1.42"/>
<circle cx="226.1" cy="196.8" r="2.55"/>
<circle cx="228.0" cy="198.7" r="1.98"/>
<circle cx="233.7" cy="201.7" r="1.42"/>
<circle cx="438.8" cy="5.7" r="1.42"/>
<circle cx="443.7" cy="13.8" r="2.27"/>
<circle cx="456.1" cy="8.2" r="1.42"/>
<circle cx="467.4" cy="9.4" r="1.42"/>
<circle cx="476.5" cy="11.1" r="1.42"/>
<circle cx="439.6" cy="20.0" r="2.27"/>
<circle cx="441.3" cy="23.4" r="1.42"/>
<circle cx="448.7" cy="23.7" r="1.42"/>
<circle cx="480.7" cy="25.4" r="2.83"/>
<circle cx="472.3" cy="37.0" r="2.83"/>
<circle cx="465.4" cy="37.0" r="1.42"/>
<circle cx="464.2" cy="41.4" r="1.42"/>
<circle cx="482.2" cy="34.5" r="1.42"/>
<circle cx="487.1" cy="39.7" r="1.42"/>
<circle cx="474.8" cy="43.9" r="1.42"/>
<circle cx="483.9" cy="46.4" r="1.42"/>
<circle cx="512.3" cy="46.4" r="2.83"/>
<circle cx="517.7" cy="44.4" r="2.27"/>
<circle cx="439.6" cy="43.2" r="1.42"/>
<circle cx="445.7" cy="47.1" r="2.27"/>
<circle cx="447.0" cy="48.8" r="1.42"/>
<circle cx="474.8" cy="52.5" r="1.42"/>
<circle cx="489.6" cy="53.8" r="1.42"/>
<circle cx="443.7" cy="57.5" r="1.98"/>
<circle cx="479.7" cy="58.7" r="2.27"/>
<circle cx="483.2" cy="62.4" r="2.55"/>
<circle cx="469.9" cy="63.1" r="1.42"/>
<circle cx="456.1" cy="64.9" r="2.55"/>
<circle cx="484.7" cy="68.6" r="2.83"/>
<circle cx="479.0" cy="66.6" r="1.42"/>
<circle cx="450.2" cy="70.5" r="2.55"/>
<circle cx="464.9" cy="69.3" r="1.70"/>
<circle cx="492.6" cy="65.6" r="1.42"/>
<circle cx="490.6" cy="72.2" r="2.27"/>
<circle cx="495.0" cy="71.0" r="2.27"/>
<circle cx="499.9" cy="74.7" r="2.83"/>
<circle cx="504.9" cy="75.9" r="2.83"/>
<circle cx="488.9" cy="75.9" r="1.70"/>
<circle cx="492.6" cy="81.4" r="2.27"/>
<circle cx="497.5" cy="79.6" r="2.27"/>
<circle cx="502.4" cy="82.1" r="1.70"/>
<circle cx="482.2" cy="83.3" r="2.83"/>
<circle cx="455.6" cy="79.6" r="2.83"/>
<circle cx="479.7" cy="89.0" r="1.42"/>
<circle cx="485.2" cy="90.0" r="1.42"/>
<circle cx="491.3" cy="89.5" r="1.42"/>
<circle cx="508.6" cy="88.3" r="2.83"/>
<circle cx="511.0" cy="94.4" r="2.83"/>
<circle cx="513.5" cy="91.2" r="1.70"/>
<circle cx="499.5" cy="92.0" r="2.27"/>
<circle cx="514.7" cy="85.8" r="1.42"/>
<circle cx="525.8" cy="94.4" r="1.42"/>
<circle cx="490.8" cy="95.2" r="1.42"/>
<circle cx="472.8" cy="95.2" r="1.42"/>
<circle cx="460.0" cy="99.4" r="2.83"/>
<circle cx="459.3" cy="101.1" r="2.27"/>
<circle cx="496.2" cy="100.6" r="2.83"/>
<circle cx="497.5" cy="103.1" r="2.27"/>
<circle cx="502.4" cy="99.4" r="2.27"/>
<circle cx="449.4" cy="99.4" r="1.42"/>
<circle cx="483.9" cy="99.4" r="1.42"/>
<circle cx="290.2" cy="111.7" r="1.43"/>
<circle cx="297.7" cy="111.0" r="1.14"/>
<circle cx="314.3" cy="113.5" r="1.43"/>
<circle cx="326.2" cy="115.0" r="2.00"/>
<circle cx="334.9" cy="116.7" r="1.43"/>
<circle cx="351.5" cy="119.9" r="1.43"/>
<circle cx="354.8" cy="118.4" r="1.43"/>
<circle cx="302.6" cy="119.2" r="1.43"/>
<circle cx="298.9" cy="126.6" r="1.43"/>
<circle cx="300.1" cy="129.8" r="1.43"/>
<circle cx="305.8" cy="132.8" r="2.86"/>
<circle cx="300.9" cy="132.8" r="1.43"/>
<circle cx="322.5" cy="128.4" r="2.57"/>
<circle cx="314.3" cy="128.4" r="1.43"/>
<circle cx="336.1" cy="131.6" r="2.57"/>
<circle cx="339.9" cy="131.1" r="2.28"/>
<circle cx="351.0" cy="131.6" r="1.71"/>
<circle cx="359.7" cy="131.6" r="1.71"/>
<circle cx="365.9" cy="131.6" r="2.57"/>
<circle cx="405.2" cy="133.3" r="2.00"/>
<circle cx="296.9" cy="137.3" r="1.43"/>
<circle cx="325.0" cy="142.3" r="2.00"/>
<circle cx="330.7" cy="142.8" r="1.43"/>
<circle cx="340.6" cy="140.3" r="1.43"/>
<circle cx="348.5" cy="142.3" r="2.57"/>
<circle cx="352.3" cy="139.0" r="1.43"/>
<circle cx="347.3" cy="135.3" r="1.43"/>
<circle cx="363.4" cy="139.8" r="1.43"/>
<circle cx="368.4" cy="137.3" r="1.71"/>
<circle cx="322.5" cy="146.5" r="1.43"/>
<circle cx="349.0" cy="147.0" r="1.43"/>
<circle cx="373.4" cy="150.7" r="2.57"/>
<circle cx="375.9" cy="150.2" r="2.57"/>
<circle cx="297.7" cy="149.0" r="1.43"/>
<circle cx="303.9" cy="152.7" r="2.86"/>
<circle cx="314.3" cy="152.2" r="2.28"/>
<circle cx="305.1" cy="156.4" r="1.43"/>
<circle cx="332.4" cy="153.2" r="1.43"/>
<circle cx="356.0" cy="152.2" r="1.43"/>
<circle cx="330.7" cy="157.7" r="1.43"/>
<circle cx="341.6" cy="157.7" r="1.43"/>
<circle cx="348.1" cy="158.9" r="1.43"/>
<circle cx="338.6" cy="162.6" r="2.28"/>
<circle cx="356.0" cy="161.4" r="2.28"/>
<circle cx="362.9" cy="160.1" r="1.43"/>
<circle cx="301.4" cy="162.6" r="2.57"/>
<circle cx="302.6" cy="163.9" r="2.00"/>
<circle cx="310.8" cy="164.6" r="1.43"/>
<circle cx="325.0" cy="167.1" r="2.57"/>
<circle cx="328.7" cy="168.1" r="1.43"/>
<circle cx="338.6" cy="171.3" r="2.57"/>
<circle cx="341.6" cy="168.8" r="1.43"/>
<circle cx="315.0" cy="173.0" r="1.43"/>
<circle cx="307.6" cy="176.3" r="2.28"/>
<circle cx="310.1" cy="175.5" r="2.00"/>
<circle cx="317.5" cy="176.3" r="1.43"/>
<circle cx="296.9" cy="170.8" r="1.43"/>
<circle cx="367.2" cy="173.8" r="2.00"/>
<circle cx="351.0" cy="173.0" r="2.28"/>
<circle cx="347.3" cy="178.8" r="2.86"/>
<circle cx="352.3" cy="178.8" r="2.86"/>
<circle cx="357.2" cy="178.8" r="2.86"/>
<circle cx="362.2" cy="180.0" r="2.57"/>
<circle cx="365.9" cy="181.2" r="2.28"/>
<circle cx="348.5" cy="185.0" r="2.86"/>
<circle cx="353.5" cy="182.5" r="2.86"/>
<circle cx="358.5" cy="183.7" r="2.28"/>
<circle cx="349.8" cy="188.7" r="2.57"/>
<circle cx="357.2" cy="188.7" r="2.28"/>
<circle cx="364.7" cy="188.7" r="2.86"/>
<circle cx="367.2" cy="189.9" r="2.28"/>
<circle cx="341.1" cy="188.7" r="2.28"/>
<circle cx="327.4" cy="179.5" r="2.86"/>
<circle cx="323.7" cy="182.5" r="2.28"/>
<circle cx="320.0" cy="182.5" r="1.43"/>
<circle cx="308.3" cy="187.4" r="1.43"/>
<circle cx="307.6" cy="180.7" r="1.43"/>
<circle cx="314.3" cy="185.0" r="1.43"/>
<circle cx="343.6" cy="194.9" r="2.57"/>
<circle cx="347.3" cy="193.7" r="1.43"/>
<circle cx="356.0" cy="194.9" r="2.28"/>
<circle cx="358.5" cy="197.4" r="1.43"/>
<circle cx="363.4" cy="194.9" r="2.28"/>
<circle cx="368.4" cy="196.1" r="2.28"/>
<circle cx="370.9" cy="198.6" r="1.43"/>
<circle cx="377.1" cy="196.1" r="1.43"/>
<circle cx="334.9" cy="197.9" r="1.43"/>
<circle cx="382.1" cy="199.9" r="2.00"/>
<circle cx="383.3" cy="201.8" r="1.43"/>
<circle cx="305.1" cy="205.3" r="2.86"/>
<circle cx="303.9" cy="204.8" r="2.28"/>
<circle cx="316.3" cy="206.1" r="1.43"/>
<circle cx="325.0" cy="201.8" r="1.43"/>
<circle cx="336.1" cy="203.6" r="1.43"/>
<circle cx="351.0" cy="204.3" r="1.43"/>
<circle cx="354.8" cy="205.3" r="2.28"/>
<circle cx="356.0" cy="207.3" r="2.00"/>
<circle cx="357.2" cy="202.3" r="1.43"/>
<circle cx="367.2" cy="203.6" r="1.43"/>
<circle cx="374.6" cy="206.1" r="1.43"/>
<circle cx="378.3" cy="204.8" r="1.43"/>
<circle cx="431.2" cy="111.9" r="1.81"/>
<circle cx="433.1" cy="115.1" r="1.29"/>
<circle cx="438.6" cy="111.5" r="1.29"/>
<circle cx="445.5" cy="117.6" r="2.07"/>
<circle cx="444.2" cy="119.7" r="1.29"/>
<circle cx="456.2" cy="113.9" r="1.81"/>
<circle cx="467.7" cy="115.1" r="1.16"/>
<circle cx="475.9" cy="116.4" r="2.07"/>
<circle cx="492.5" cy="119.7" r="1.29"/>
<circle cx="495.6" cy="118.5" r="1.55"/>
<circle cx="433.6" cy="121.8" r="1.29"/>
<circle cx="439.3" cy="125.9" r="1.16"/>
<circle cx="440.8" cy="128.3" r="1.04"/>
<circle cx="435.2" cy="130.4" r="2.85"/>
<circle cx="442.0" cy="132.4" r="1.29"/>
<circle cx="446.7" cy="133.3" r="2.07"/>
<circle cx="448.8" cy="129.6" r="1.55"/>
<circle cx="452.5" cy="134.5" r="2.33"/>
<circle cx="455.0" cy="128.3" r="1.55"/>
<circle cx="456.6" cy="123.8" r="1.29"/>
<circle cx="459.3" cy="133.3" r="1.29"/>
<circle cx="464.2" cy="128.3" r="2.33"/>
<circle cx="470.4" cy="137.6" r="2.33"/>
<circle cx="479.6" cy="131.4" r="2.33"/>
<circle cx="481.5" cy="131.2" r="1.81"/>
<circle cx="489.5" cy="130.8" r="1.29"/>
<circle cx="490.7" cy="136.1" r="1.04"/>
<circle cx="438.3" cy="137.6" r="1.29"/>
<circle cx="451.3" cy="141.0" r="2.85"/>
<circle cx="448.2" cy="141.3" r="1.55"/>
<circle cx="459.5" cy="140.7" r="2.85"/>
<circle cx="466.1" cy="143.1" r="1.81"/>
<circle cx="465.4" cy="147.4" r="2.33"/>
<circle cx="472.2" cy="142.5" r="1.81"/>
<circle cx="474.7" cy="145.6" r="2.07"/>
<circle cx="482.1" cy="140.3" r="2.07"/>
<circle cx="487.0" cy="145.0" r="1.29"/>
<circle cx="493.2" cy="143.1" r="2.33"/>
<circle cx="439.3" cy="148.7" r="1.29"/>
<circle cx="449.4" cy="148.4" r="1.04"/>
<circle cx="446.7" cy="153.4" r="2.59"/>
<circle cx="456.2" cy="151.8" r="2.85"/>
<circle cx="451.3" cy="155.4" r="1.04"/>
<circle cx="470.6" cy="153.0" r="1.81"/>
<circle cx="475.9" cy="149.9" r="1.29"/>
<circle cx="483.3" cy="151.8" r="1.29"/>
<circle cx="482.7" cy="156.1" r="2.07"/>
<circle cx="490.7" cy="154.6" r="1.29"/>
<circle cx="442.0" cy="158.5" r="1.29"/>
<circle cx="450.6" cy="158.5" r="1.29"/>
<circle cx="474.1" cy="157.9" r="1.29"/>
<circle cx="466.7" cy="156.1" r="1.04"/>
<circle cx="485.8" cy="148.1" r="1.04"/>
<circle cx="495.0" cy="145.0" r="1.29"/>
<circle cx="496.6" cy="118.5" r="1.55"/>
<circle cx="510.8" cy="124.3" r="2.33"/>
<circle cx="500.9" cy="131.2" r="2.07"/>
<circle cx="506.8" cy="131.2" r="2.33"/>
<circle cx="514.2" cy="132.4" r="2.07"/>
<circle cx="504.4" cy="138.2" r="2.07"/>
<circle cx="510.8" cy="137.6" r="1.81"/>
<circle cx="546.5" cy="133.3" r="2.33"/>
<circle cx="512.0" cy="151.8" r="2.85"/>
<circle cx="515.7" cy="149.9" r="2.33"/>
<circle cx="519.4" cy="148.7" r="1.55"/>
<circle cx="509.6" cy="152.4" r="1.81"/>
<circle cx="501.5" cy="152.4" r="1.29"/>
<circle cx="497.2" cy="151.8" r="1.04"/>
<circle cx="497.2" cy="159.8" r="1.29"/>
<circle cx="443.3" cy="163.1" r="1.55"/>
<circle cx="451.9" cy="160.6" r="1.29"/>
<circle cx="456.2" cy="163.7" r="1.29"/>
<circle cx="452.5" cy="164.3" r="1.29"/>
<circle cx="463.0" cy="161.2" r="1.29"/>
<circle cx="463.0" cy="166.2" r="2.07"/>
<circle cx="466.7" cy="166.8" r="2.07"/>
<circle cx="470.4" cy="169.2" r="1.29"/>
<circle cx="480.2" cy="163.7" r="2.07"/>
<circle cx="483.3" cy="161.2" r="1.81"/>
<circle cx="491.3" cy="162.5" r="1.29"/>
<circle cx="482.7" cy="169.9" r="2.85"/>
<circle cx="486.4" cy="172.3" r="1.81"/>
<circle cx="480.2" cy="172.3" r="1.55"/>
<circle cx="492.5" cy="167.4" r="1.29"/>
<circle cx="437.7" cy="170.8" r="1.29"/>
<circle cx="454.3" cy="171.1" r="1.29"/>
<circle cx="456.8" cy="174.2" r="2.59"/>
<circle cx="466.1" cy="173.6" r="2.85"/>
<circle cx="469.1" cy="176.0" r="2.59"/>
<circle cx="467.3" cy="178.5" r="1.55"/>
<circle cx="447.0" cy="177.3" r="2.85"/>
<circle cx="449.4" cy="179.7" r="2.59"/>
<circle cx="448.2" cy="182.2" r="2.07"/>
<circle cx="451.9" cy="178.5" r="1.55"/>
<circle cx="477.8" cy="174.8" r="2.07"/>
<circle cx="476.5" cy="179.1" r="2.07"/>
<circle cx="482.7" cy="177.9" r="1.81"/>
<circle cx="492.5" cy="172.3" r="1.29"/>
<circle cx="447.6" cy="186.5" r="1.81"/>
<circle cx="455.6" cy="185.3" r="1.29"/>
<circle cx="458.7" cy="183.4" r="1.29"/>
<circle cx="461.7" cy="184.6" r="1.29"/>
<circle cx="464.2" cy="182.2" r="1.29"/>
<circle cx="477.1" cy="186.5" r="1.55"/>
<circle cx="482.1" cy="185.9" r="1.29"/>
<circle cx="466.7" cy="189.6" r="1.29"/>
<circle cx="455.6" cy="191.4" r="1.29"/>
<circle cx="459.3" cy="190.8" r="1.29"/>
<circle cx="477.1" cy="193.3" r="1.29"/>
<circle cx="485.2" cy="195.1" r="2.33"/>
<circle cx="490.1" cy="195.7" r="1.55"/>
<circle cx="477.8" cy="198.2" r="2.07"/>
<circle cx="456.8" cy="197.0" r="2.33"/>
<circle cx="459.3" cy="194.5" r="1.81"/>
<circle cx="451.3" cy="199.4" r="1.29"/>
<circle cx="466.7" cy="194.5" r="1.29"/>
<circle cx="482.7" cy="200.7" r="2.07"/>
<circle cx="445.1" cy="201.3" r="2.33"/>
<circle cx="465.4" cy="201.3" r="2.59"/>
<circle cx="459.3" cy="205.0" r="2.07"/>
<circle cx="461.7" cy="203.8" r="1.55"/>
<circle cx="445.1" cy="205.6" r="1.55"/>
<circle cx="449.4" cy="205.6" r="1.29"/>
<circle cx="452.5" cy="205.6" r="1.29"/>
<circle cx="469.1" cy="205.6" r="1.29"/>
<circle cx="472.8" cy="205.0" r="1.29"/>
<circle cx="477.8" cy="203.8" r="2.59"/>
<circle cx="490.1" cy="200.7" r="1.81"/>
<circle cx="488.9" cy="190.8" r="1.29"/>
<circle cx="463.0" cy="199.4" r="1.55"/>
<circle cx="497.8" cy="161.2" r="1.81"/>
<circle cx="504.0" cy="161.2" r="1.55"/>
<circle cx="497.2" cy="166.2" r="1.29"/>
<circle cx="507.7" cy="174.8" r="1.81"/>
<circle cx="514.5" cy="190.8" r="2.85"/>
<circle cx="509.6" cy="193.3" r="2.07"/>
<circle cx="502.8" cy="193.3" r="2.33"/>
<circle cx="512.0" cy="198.2" r="2.59"/>
<circle cx="515.7" cy="200.7" r="1.81"/>
<circle cx="524.3" cy="197.6" r="2.07"/>
<circle cx="530.5" cy="201.3" r="2.33"/>
<circle cx="526.2" cy="203.1" r="1.29"/>
<circle cx="518.8" cy="193.9" r="1.29"/>
<circle cx="521.9" cy="195.7" r="1.29"/>
<circle cx="518.8" cy="206.8" r="1.29"/>
<circle cx="522.5" cy="206.8" r="1.55"/>
<circle cx="503.4" cy="206.2" r="2.85"/>
<circle cx="498.5" cy="205.6" r="1.81"/>
<circle cx="508.3" cy="203.1" r="1.29"/>
<circle cx="512.0" cy="203.8" r="1.29"/>
<ellipse cx="355" cy="184" rx="9" ry="8"/>
<circle cx="497" cy="182" r="8"/>
<circle cx="491" cy="178" r="5"/>
<circle cx="503" cy="176" r="6"/>
<circle cx="502" cy="188" r="6"/>
<circle cx="492" cy="188" r="5"/>
<circle cx="497" cy="172" r="4"/>
<circle cx="489" cy="184" r="4"/>
<circle cx="505" cy="182" r="5"/>
</g>
<text x="114.5" y="12.3" class="tl" textLength="35.4" lengthAdjust="spacingAndGlyphs">α=0%</text>
<text x="255.5" y="12.3" class="tl" textLength="35.4" lengthAdjust="spacingAndGlyphs">α=5%</text>
<text x="114.3" y="116.8" class="tl" textLength="43.1" lengthAdjust="spacingAndGlyphs">α=10%</text>
<text x="255.3" y="116.8" class="tl" textLength="43.1" lengthAdjust="spacingAndGlyphs">α=20%</text>
<text x="397" y="12.3" class="tl" textLength="35.4" lengthAdjust="spacingAndGlyphs">α=0%</text>
<text x="538.3" y="12.3" class="tl" textLength="35.4" lengthAdjust="spacingAndGlyphs">α=5%</text>
<text x="397" y="116.8" class="tl" textLength="43.1" lengthAdjust="spacingAndGlyphs">α=10%</text>
<text x="538.5" y="116.8" class="tl" textLength="43.1" lengthAdjust="spacingAndGlyphs">α=20%</text>
<rect x="20.71" y="307.30" width="12.82" height="115.70" fill="#9ac8dc"/>
<rect x="33.53" y="325.70" width="12.82" height="97.30" fill="#95c37d"/>
<rect x="46.35" y="343.60" width="12.82" height="79.40" fill="#f2d267"/>
<rect x="59.17" y="352.50" width="12.82" height="70.50" fill="#db3a3c"/>
<rect x="84.81" y="399.60" width="12.82" height="23.40" fill="#9ac8dc"/>
<rect x="97.63" y="394.20" width="12.82" height="28.80" fill="#95c37d"/>
<rect x="110.45" y="394.20" width="12.82" height="28.80" fill="#f2d267"/>
<rect x="123.27" y="376.90" width="12.82" height="46.10" fill="#db3a3c"/>
<rect x="148.91" y="396.75" width="12.82" height="26.25" fill="#9ac8dc"/>
<rect x="161.73" y="390.00" width="12.82" height="33.00" fill="#95c37d"/>
<rect x="174.55" y="391.75" width="12.82" height="31.25" fill="#f2d267"/>
<rect x="187.37" y="383.00" width="12.82" height="40.00" fill="#db3a3c"/>
<rect x="213.01" y="389.50" width="12.82" height="33.50" fill="#9ac8dc"/>
<rect x="225.83" y="383.00" width="12.82" height="40.00" fill="#95c37d"/>
<rect x="238.65" y="363.25" width="12.82" height="59.75" fill="#f2d267"/>
<rect x="251.47" y="381.50" width="12.82" height="41.50" fill="#db3a3c"/>
<rect x="302.76" y="250.00" width="12.92" height="173.00" fill="#9ac8dc"/>
<rect x="315.68" y="314.70" width="12.92" height="108.30" fill="#95c37d"/>
<rect x="328.60" y="331.70" width="12.92" height="91.30" fill="#f2d267"/>
<rect x="341.52" y="339.10" width="12.92" height="83.90" fill="#db3a3c"/>
<rect x="367.36" y="403.70" width="12.92" height="19.30" fill="#9ac8dc"/>
<rect x="380.28" y="398.10" width="12.92" height="24.90" fill="#95c37d"/>
<rect x="393.20" y="390.60" width="12.92" height="32.40" fill="#f2d267"/>
<rect x="406.12" y="391.80" width="12.92" height="31.20" fill="#db3a3c"/>
<rect x="431.96" y="404.20" width="12.92" height="18.80" fill="#9ac8dc"/>
<rect x="444.88" y="397.30" width="12.92" height="25.70" fill="#95c37d"/>
<rect x="457.80" y="393.10" width="12.92" height="29.90" fill="#f2d267"/>
<rect x="470.72" y="389.30" width="12.92" height="33.70" fill="#db3a3c"/>
<rect x="496.56" y="395.10" width="12.92" height="27.90" fill="#9ac8dc"/>
<rect x="509.48" y="383.20" width="12.92" height="39.80" fill="#95c37d"/>
<rect x="522.40" y="378.70" width="12.92" height="44.30" fill="#f2d267"/>
<rect x="535.32" y="373.20" width="12.92" height="49.80" fill="#db3a3c"/>
<polyline points="14.3,338.0 16.9,338.0 16.9,336.2 19.4,336.2 19.4,334.5 21.7,334.5 21.7,332.9 24.1,332.9 24.1,331.3 26.4,331.3 26.4,329.8 28.7,329.8 28.7,328.2 31.1,328.2 31.1,326.6 33.4,326.6 33.4,325.0 35.8,325.0 35.8,322.7 38.1,322.7 38.1,320.4 40.5,320.4 40.5,319.4 42.8,319.4 42.8,318.5 45.2,318.5 45.2,317.5 47.5,317.5 47.5,316.5 49.9,316.5 49.9,315.6 52.2,315.6 52.2,314.6 54.5,314.6 54.5,314.0 56.9,314.0 56.9,313.4 59.2,313.4 59.2,312.8 61.5,312.8 61.5,312.2 63.9,312.2 63.9,311.6 66.2,311.6 66.2,311.0 68.5,311.0 68.5,310.1 70.9,310.1 70.9,309.2 73.2,309.2 73.2,308.2 75.5,308.2 75.5,307.3 77.9,307.3 77.9,306.4 80.2,306.4 80.2,305.5 82.6,305.5 82.6,304.5 85.0,304.5 85.0,303.5 87.3,303.5 87.3,302.4 89.7,302.4 89.7,301.4 92.1,301.4 92.1,300.4 94.5,300.4 94.5,300.0 96.9,300.0 96.9,299.6 99.2,299.6 99.2,299.2 101.6,299.2 101.6,298.8 104.0,298.8 104.0,298.4 142.5,298.4 142.5,266.4 181.4,266.4 183.7,266.4 183.7,265.0 186.0,265.0 186.0,263.7 188.2,263.7 188.2,262.3 190.5,262.3 190.5,261.0 192.8,261.0 192.8,259.6 195.1,259.6 195.1,258.6 197.4,258.6 197.4,257.6 199.7,257.6 199.7,256.6 202.0,256.6 202.0,255.7 204.3,255.7 204.3,254.7 206.6,254.7 206.6,253.7 208.9,253.7 208.9,252.6 211.1,252.6 211.1,251.6 213.4,251.6 213.4,250.5 215.6,250.5 215.6,249.4 217.9,249.4 217.9,248.4 220.2,248.4 220.2,247.3 222.4,247.3 222.4,246.3 224.7,246.3 224.7,245.2 227.2,245.2 227.2,244.1 229.6,244.1 229.6,243.1 232.1,243.1 232.1,242.0 234.4,242.0 234.4,241.4 236.7,241.4 236.7,240.8 238.9,240.8 238.9,240.2 241.2,240.2 241.2,239.5 243.5,239.5 243.5,238.9 245.8,238.9 245.8,238.3 248.4,238.3 248.4,236.8 251.0,236.8 251.0,235.4 253.5,235.4 253.5,233.9 256.1,233.9 256.1,232.5 258.7,232.5 258.7,231.0 261.3,231.0 261.3,229.1 263.9,229.1 263.9,227.3 266.4,227.3 266.4,225.4 269.0,225.4 269.0,223.6 271.6,223.6 271.6,221.7" fill="none" stroke="#9ac8dc" stroke-width="2.8" stroke-linejoin="miter" stroke-linecap="butt"/>
<polyline points="14.3,359.0 16.7,359.0 16.7,357.2 19.1,357.2 19.1,355.5 21.6,355.5 21.6,353.8 24.0,353.8 24.0,352.0 26.4,352.0 26.4,349.7 28.7,349.7 28.7,347.4 31.0,347.4 31.0,345.0 33.4,345.0 33.4,342.7 35.8,342.7 35.8,341.5 38.1,341.5 38.1,340.4 40.5,340.4 40.5,339.2 42.8,339.2 42.8,338.0 45.1,338.0 45.1,336.9 47.5,336.9 47.5,335.7 49.8,335.7 49.8,335.1 52.1,335.1 52.1,334.5 54.5,334.5 54.5,333.9 56.8,333.9 56.8,333.3 59.1,333.3 59.1,332.8 61.5,332.8 61.5,332.4 63.8,332.4 63.8,331.9 66.2,331.9 66.2,331.5 68.5,331.5 68.5,331.0 70.8,331.0 70.8,329.3 73.2,329.3 73.2,327.6 75.5,327.6 75.5,326.0 77.9,326.0 77.9,324.3 80.2,324.3 80.2,322.6 82.3,322.6 82.3,322.0 84.5,322.0 84.5,321.3 86.6,321.3 86.6,320.6 88.7,320.6 88.7,320.0 91.0,320.0 91.0,319.0 93.4,319.0 93.4,318.1 95.8,318.1 95.8,317.1 98.1,317.1 98.1,316.1 101.0,316.1 101.0,315.8 104.0,315.8 104.0,315.4 142.5,315.4 142.5,269.9 185.8,269.9 188.1,269.9 188.1,268.9 190.5,268.9 190.5,268.0 192.8,268.0 192.8,267.0 195.2,267.0 195.2,266.0 197.5,266.0 197.5,265.1 199.8,265.1 199.8,264.1 202.2,264.1 202.2,263.2 204.5,263.2 204.5,262.2 207.2,262.2 207.2,260.6 209.8,260.6 209.8,259.1 212.4,259.1 212.4,257.5 215.1,257.5 215.1,255.9 217.8,255.9 217.8,253.9 220.4,253.9 220.4,251.9 223.0,251.9 223.0,249.9 225.7,249.9 225.7,247.9 228.2,247.9 228.2,246.6 230.7,246.6 230.7,245.4 233.2,245.4 233.2,244.1 235.3,244.1 235.3,243.4 237.4,243.4 237.4,242.8 239.6,242.8 239.6,242.2 241.7,242.2 241.7,241.5 244.1,241.5 244.1,240.2 246.6,240.2 246.6,238.8 249.0,238.8 249.0,237.4 251.4,237.4 251.4,236.1 253.9,236.1 253.9,234.8 256.3,234.8 256.3,233.4 259.5,233.4 259.5,231.0 261.9,231.0 261.9,229.1 264.3,229.1 264.3,227.3 266.8,227.3 266.8,225.4 269.2,225.4 269.2,223.6 271.6,223.6 271.6,221.7" fill="none" stroke="#95c37d" stroke-width="2.8" stroke-linejoin="miter" stroke-linecap="butt"/>
<polyline points="14.3,393.0 16.7,393.0 16.7,388.3 19.1,388.3 19.1,383.6 21.6,383.6 21.6,379.0 24.0,379.0 24.0,374.3 26.4,374.3 26.4,372.8 28.7,372.8 28.7,371.2 31.1,371.2 31.1,369.6 33.4,369.6 33.4,368.1 35.8,368.1 35.8,366.6 38.1,366.6 38.1,365.0 40.5,365.0 40.5,364.2 42.8,364.2 42.8,363.4 45.2,363.4 45.2,362.6 47.5,362.6 47.5,361.9 49.9,361.9 49.9,361.1 52.2,361.1 52.2,360.3 54.5,360.3 54.5,357.9 56.9,357.9 56.9,355.6 59.2,355.6 59.2,353.2 61.7,353.2 61.7,351.3 64.2,351.3 64.2,349.4 66.7,349.4 66.7,347.6 69.2,347.6 69.2,345.7 71.7,345.7 71.7,343.8 75.1,343.8 75.1,340.4 77.5,340.4 77.5,339.9 79.9,339.9 79.9,339.4 82.2,339.4 82.2,338.9 84.6,338.9 84.6,338.4 87.0,338.4 87.0,337.9 89.4,337.9 89.4,337.6 91.8,337.6 91.8,337.2 94.1,337.2 94.1,336.9 96.5,336.9 96.5,336.5 98.9,336.5 98.9,336.2 142.5,336.2 142.5,292.8 187.3,292.8 189.5,292.8 189.5,291.4 191.7,291.4 191.7,289.9 193.9,289.9 193.9,288.4 196.1,288.4 196.1,286.9 198.3,286.9 198.3,285.5 200.5,285.5 200.5,284.0 203.0,284.0 203.0,281.5 205.4,281.5 205.4,279.1 207.9,279.1 207.9,276.6 210.4,276.6 210.4,275.8 213.0,275.8 213.0,275.0 213.0,268.6 215.5,268.6 215.5,268.0 218.1,268.0 218.1,267.3 220.6,267.3 220.6,266.7 223.2,266.7 223.2,266.0 225.7,266.0 225.7,265.4 228.2,265.4 228.2,265.1 230.7,265.1 230.7,264.7 233.2,264.7 233.2,264.4 233.2,258.0 235.5,258.0 235.5,256.4 237.8,256.4 237.8,254.8 240.2,254.8 240.2,253.2 242.5,253.2 242.5,251.6 245.3,251.6 245.3,248.6 248.2,248.6 248.2,245.6 250.6,245.6 250.6,244.2 253.1,244.2 253.1,242.9 255.5,242.9 255.5,241.5 257.7,241.5 257.7,239.5 259.9,239.5 259.9,237.5 260.3,234.2 262.4,234.2 262.4,232.4 264.4,232.4 264.4,230.6 267.1,230.6 267.1,228.3 269.8,228.3 269.8,226.0 272.5,226.0 272.5,223.7" fill="none" stroke="#f2d267" stroke-width="2.8" stroke-linejoin="miter" stroke-linecap="butt"/>
<polyline points="14.3,393.0 16.7,393.0 16.7,389.5 19.1,389.5 19.1,386.0 21.6,386.0 21.6,382.5 24.0,382.5 24.0,379.0 26.4,379.0 26.4,377.6 28.7,377.6 28.7,376.3 31.1,376.3 31.1,374.9 33.4,374.9 33.4,373.5 35.8,373.5 35.8,372.2 38.1,372.2 38.1,370.8 40.5,370.8 40.5,369.1 42.8,369.1 42.8,367.3 45.2,367.3 45.2,365.6 47.5,365.6 47.5,363.8 49.9,363.8 49.9,362.1 52.2,362.1 52.2,360.3 54.5,360.3 54.5,359.4 56.9,359.4 56.9,358.4 59.2,358.4 59.2,357.5 61.6,357.5 61.6,356.5 63.9,356.5 63.9,355.6 65.9,355.6 65.9,354.8 68.0,354.8 68.0,354.0 70.0,354.0 70.0,353.2 72.5,353.2 72.5,352.4 75.1,352.4 75.1,351.5 77.7,351.5 77.7,350.6 80.2,350.6 80.2,349.8 82.5,349.8 82.5,348.9 84.7,348.9 84.7,348.1 87.0,348.1 87.0,347.2 89.5,347.2 89.5,345.1 92.1,345.1 92.1,343.0 94.5,343.0 94.5,342.1 96.9,342.1 96.9,341.3 99.2,341.3 99.2,340.4 101.6,340.4 101.6,339.6 104.0,339.6 104.0,338.7 104.9,338.7 104.9,337.5 142.5,337.5 142.5,272.2 187.3,272.2 189.5,272.2 189.5,269.9 191.6,269.9 191.6,267.7 193.8,267.7 193.8,265.4 196.4,265.4 196.4,264.8 198.9,264.8 198.9,264.1 201.5,264.1 201.5,263.5 204.0,263.5 204.0,262.8 206.6,262.8 206.6,262.2 208.9,262.2 208.9,261.7 211.1,261.7 211.1,261.1 213.4,261.1 213.4,260.6 215.6,260.6 215.6,260.1 217.9,260.1 217.9,259.6 220.2,259.6 220.2,259.1 222.4,259.1 222.4,258.5 224.7,258.5 224.7,258.0 226.8,258.0 226.8,257.5 228.9,257.5 228.9,256.9 231.1,256.9 231.1,256.4 233.2,256.4 233.2,255.9 233.2,248.4 235.5,248.4 235.5,248.0 237.8,248.0 237.8,247.6 240.1,247.6 240.1,247.2 242.5,247.2 242.5,243.1 245.8,243.1 245.8,239.1 248.2,239.1 248.2,238.3 250.6,238.3 250.6,237.5 253.0,237.5 253.0,236.7 255.2,236.7 255.2,235.6 257.3,235.6 257.3,234.5 259.5,234.5 259.5,233.4 261.9,233.4 261.9,229.4 263.9,229.4 263.9,227.8 266.0,227.8 266.0,226.1 269.2,226.1 269.2,224.5 271.6,224.5 271.6,221.7" fill="none" stroke="#db3a3c" stroke-width="2.8" stroke-linejoin="miter" stroke-linecap="butt"/>
<polyline points="296.1,321.7 297.6,321.7 297.6,320.7 299.1,320.7 299.1,319.7 300.5,319.7 300.5,318.8 302.0,318.8 302.0,317.8 303.5,317.8 303.5,316.8 304.9,316.8 304.9,316.0 306.2,316.0 306.2,315.2 307.6,315.2 307.6,314.4 308.9,314.4 308.9,313.6 310.3,313.6 310.3,312.7 311.6,312.7 311.6,311.9 313.0,311.9 313.0,311.1 314.3,311.1 314.3,310.3 315.7,310.3 315.7,309.5 317.1,309.5 317.1,308.9 318.4,308.9 318.4,308.3 319.8,308.3 319.8,307.8 321.2,307.8 321.2,307.2 322.5,307.2 322.5,306.6 323.9,306.6 323.9,306.0 325.3,306.0 325.3,305.5 326.6,305.5 326.6,304.9 328.0,304.9 328.0,304.3 329.3,304.3 329.3,303.7 330.7,303.7 330.7,303.2 332.1,303.2 332.1,302.6 333.4,302.6 333.4,302.0 334.8,302.0 334.8,301.4 336.2,301.4 336.2,300.9 337.5,300.9 337.5,300.3 338.9,300.3 338.9,299.7 340.3,299.7 340.3,299.2 341.6,299.2 341.6,298.6 343.0,298.6 343.0,298.1 344.4,298.1 344.4,297.6 345.8,297.6 345.8,297.0 347.1,297.0 347.1,296.5 348.5,296.5 348.5,295.9 349.9,295.9 349.9,295.4 351.3,295.4 351.3,294.9 352.6,294.9 352.6,294.3 354.0,294.3 354.0,293.8 355.4,293.8 355.4,293.2 356.8,293.2 356.8,292.7 358.1,292.7 358.1,292.2 359.5,292.2 359.5,291.6 360.9,291.6 360.9,291.1 362.2,291.1 362.2,290.7 363.6,290.7 363.6,290.3 364.9,290.3 364.9,289.9 366.3,289.9 366.3,289.5 367.6,289.5 367.6,289.1 368.9,289.1 368.9,288.8 370.3,288.8 370.3,288.4 371.6,288.4 371.6,288.0 373.0,288.0 373.0,287.6 374.3,287.6 374.3,287.2 375.7,287.2 375.7,286.8 377.0,286.8 377.0,286.4 378.4,286.4 378.4,285.9 379.8,285.9 379.8,285.3 381.3,285.3 381.3,284.8 382.7,284.8 382.7,284.3 384.1,284.3 384.1,283.7 385.5,283.7 385.5,283.2 387.0,283.2 387.0,282.7 388.4,282.7 388.4,282.1 389.8,282.1 389.8,281.6 391.2,281.6 391.2,281.1 392.6,281.1 392.6,280.5 394.1,280.5 394.1,280.0 395.5,280.0 395.5,279.5 396.9,279.5 396.9,278.9 398.3,278.9 398.3,278.4 399.8,278.4 399.8,277.9 401.2,277.9 401.2,277.3 402.6,277.3 402.6,276.8 404.0,276.8 404.0,276.4 405.4,276.4 405.4,276.0 406.7,276.0 406.7,275.7 408.1,275.7 408.1,275.3 409.5,275.3 409.5,274.9 410.9,274.9 410.9,274.5 412.2,274.5 412.2,274.2 413.6,274.2 413.6,273.8 415.0,273.8 415.0,273.4 416.4,273.4 416.4,273.0 417.7,273.0 417.7,272.7 419.1,272.7 419.1,272.3 420.5,272.3 420.5,271.9 421.9,271.9 421.9,271.5 423.2,271.5 423.2,271.2 424.6,271.2 424.6,270.8 426.0,270.8 426.0,270.4 427.4,270.4 427.4,270.0 428.8,270.0 428.8,269.6 430.1,269.6 430.1,269.2 431.5,269.2 431.5,268.8 432.9,268.8 432.9,268.4 434.3,268.4 434.3,268.0 435.7,268.0 435.7,267.6 437.0,267.6 437.0,267.2 438.4,267.2 438.4,266.8 439.8,266.8 439.8,266.4 441.2,266.4 441.2,266.1 442.6,266.1 442.6,265.7 444.0,265.7 444.0,265.3 445.3,265.3 445.3,264.9 446.7,264.9 446.7,264.5 448.1,264.5 448.1,264.1 449.5,264.1 449.5,263.7 450.9,263.7 450.9,263.3 452.2,263.3 452.2,262.9 453.6,262.9 453.6,262.5 455.0,262.5 455.0,262.1 456.4,262.1 456.4,261.7 457.8,261.7 457.8,261.3 459.2,261.3 459.2,260.9 460.6,260.9 460.6,260.5 461.9,260.5 461.9,260.1 463.3,260.1 463.3,259.7 464.7,259.7 464.7,259.3 466.1,259.3 466.1,258.9 467.5,258.9 467.5,258.5 468.9,258.5 468.9,258.1 470.3,258.1 470.3,257.7 471.6,257.7 471.6,257.3 473.0,257.3 473.0,256.9 474.4,256.9 474.4,256.5 475.8,256.5 475.8,256.1 477.2,256.1 477.2,255.7 478.5,255.7 478.5,255.2 479.9,255.2 479.9,254.7 481.2,254.7 481.2,254.2 482.6,254.2 482.6,253.7 483.9,253.7 483.9,253.2 485.3,253.2 485.3,252.6 486.6,252.6 486.6,252.1 488.0,252.1 488.0,251.6 489.3,251.6 489.3,251.1 490.7,251.1 490.7,250.6 492.0,250.6 492.0,250.1 493.4,250.1 493.4,249.6 494.8,249.6 494.8,249.1 496.3,249.1 496.3,248.6 497.7,248.6 497.7,248.1 499.1,248.1 499.1,247.6 500.5,247.6 500.5,247.1 502.0,247.1 502.0,246.7 503.4,246.7 503.4,246.2 504.8,246.2 504.8,245.7 506.2,245.7 506.2,245.2 507.7,245.2 507.7,244.7 509.1,244.7 509.1,244.2 510.5,244.2 510.5,243.7 511.9,243.7 511.9,243.1 513.3,243.1 513.3,242.4 514.8,242.4 514.8,241.8 516.2,241.8 516.2,241.1 517.6,241.1 517.6,240.5 519.0,240.5 519.0,239.8 520.5,239.8 520.5,239.2 521.9,239.2 521.9,238.5 523.3,238.5 523.3,237.9 524.7,237.9 524.7,237.2 526.2,237.2 526.2,236.6 527.6,236.6 527.6,235.9 529.0,235.9 529.0,235.3 530.4,235.3 530.4,234.7 531.8,234.7 531.8,234.2 533.1,234.2 533.1,233.6 534.5,233.6 534.5,233.0 535.9,233.0 535.9,232.4 537.2,232.4 537.2,231.8 538.6,231.8 538.6,231.3 540.0,231.3 540.0,230.7 541.4,230.7 541.4,229.8 542.9,229.8 542.9,228.8 544.3,228.8 544.3,227.9 545.8,227.9 545.8,227.0 547.2,227.0 547.2,226.0 548.7,226.0 548.7,225.1 550.1,225.1 550.1,224.2 551.6,224.2 551.6,223.2 553.0,223.2 553.0,222.3" fill="none" stroke="#9ac8dc" stroke-width="2.8" stroke-linejoin="miter" stroke-linecap="butt"/>
<polyline points="296.1,357.7 297.5,357.7 297.5,356.6 298.8,356.6 298.8,355.4 300.2,355.4 300.2,354.2 301.5,354.2 301.5,353.1 302.9,353.1 302.9,351.9 304.2,351.9 304.2,350.8 305.6,350.8 305.6,349.6 306.9,349.6 306.9,348.5 308.2,348.5 308.2,347.3 309.6,347.3 309.6,346.2 311.0,346.2 311.0,345.1 312.4,345.1 312.4,344.1 313.8,344.1 313.8,343.1 315.2,343.1 315.2,342.0 316.6,342.0 316.6,340.9 318.0,340.9 318.0,339.9 319.4,339.9 319.4,338.9 320.7,338.9 320.7,337.8 322.1,337.8 322.1,336.8 323.5,336.8 323.5,335.7 324.9,335.7 324.9,334.6 326.3,334.6 326.3,333.6 327.7,333.6 327.7,332.6 329.1,332.6 329.1,331.5 330.5,331.5 330.5,330.8 331.9,330.8 331.9,330.1 333.3,330.1 333.3,329.4 334.7,329.4 334.7,328.7 336.1,328.7 336.1,328.0 337.5,328.0 337.5,327.3 338.9,327.3 338.9,326.6 340.3,326.6 340.3,325.9 341.7,325.9 341.7,325.2 343.1,325.2 343.1,324.5 344.5,324.5 344.5,323.8 345.9,323.8 345.9,323.1 347.3,323.1 347.3,322.4 348.7,322.4 348.7,321.7 350.1,321.7 350.1,321.0 351.5,321.0 351.5,320.2 353.0,320.2 353.0,319.5 354.4,319.5 354.4,318.8 355.8,318.8 355.8,318.0 357.2,318.0 357.2,317.3 358.6,317.3 358.6,316.6 360.1,316.6 360.1,315.8 361.5,315.8 361.5,315.1 362.9,315.1 362.9,314.4 364.3,314.4 364.3,313.6 365.7,313.6 365.7,312.9 367.2,312.9 367.2,312.2 368.6,312.2 368.6,311.4 370.0,311.4 370.0,310.7 371.4,310.7 371.4,309.9 372.8,309.9 372.8,309.1 374.2,309.1 374.2,308.4 375.6,308.4 375.6,307.6 377.1,307.6 377.1,306.8 378.5,306.8 378.5,306.1 379.9,306.1 379.9,305.3 381.3,305.3 381.3,304.5 382.7,304.5 382.7,304.1 384.1,304.1 384.1,303.6 385.6,303.6 385.6,303.2 387.0,303.2 387.0,302.8 388.4,302.8 388.4,302.4 389.8,302.4 389.8,301.9 391.2,301.9 391.2,301.5 392.7,301.5 392.7,301.1 394.1,301.1 394.1,300.7 395.5,300.7 395.5,300.2 396.9,300.2 396.9,299.8 398.3,299.8 398.3,299.4 399.8,299.4 399.8,299.0 401.2,299.0 401.2,298.5 402.6,298.5 402.6,298.1 404.0,298.1 404.0,297.6 405.4,297.6 405.4,297.1 406.8,297.1 406.8,296.6 408.3,296.6 408.3,296.1 409.7,296.1 409.7,295.6 411.1,295.6 411.1,295.1 412.5,295.1 412.5,294.6 413.9,294.6 413.9,294.1 415.3,294.1 415.3,293.6 416.7,293.6 416.7,293.1 418.1,293.1 418.1,292.6 419.6,292.6 419.6,292.1 421.0,292.1 421.0,291.6 422.4,291.6 422.4,291.1 423.8,291.1 423.8,290.6 425.2,290.6 425.2,290.2 426.6,290.2 426.6,289.7 428.1,289.7 428.1,289.3 429.5,289.3 429.5,288.8 430.9,288.8 430.9,288.4 432.4,288.4 432.4,288.0 433.8,288.0 433.8,287.5 435.2,287.5 435.2,287.1 436.6,287.1 436.6,286.6 438.0,286.6 438.0,286.2 439.5,286.2 439.5,285.7 440.9,285.7 440.9,285.3 442.3,285.3 442.3,284.7 443.7,284.7 443.7,284.0 445.1,284.0 445.1,283.4 446.5,283.4 446.5,282.7 447.9,282.7 447.9,282.1 449.4,282.1 449.4,281.4 450.8,281.4 450.8,280.8 452.2,280.8 452.2,280.1 453.6,280.1 453.6,279.4 455.0,279.4 455.0,278.8 456.4,278.8 456.4,278.2 457.8,278.2 457.8,277.5 459.3,277.5 459.3,276.9 460.7,276.9 460.7,276.2 462.1,276.2 462.1,275.6 463.5,275.6 463.5,275.0 465.0,275.0 465.0,274.3 466.4,274.3 466.4,273.7 467.8,273.7 467.8,273.1 469.2,273.1 469.2,272.4 470.7,272.4 470.7,271.8 472.1,271.8 472.1,271.1 473.5,271.1 473.5,270.5 474.8,270.5 474.8,269.9 476.2,269.9 476.2,269.3 477.5,269.3 477.5,268.7 478.9,268.7 478.9,268.1 480.2,268.1 480.2,267.5 481.6,267.5 481.6,267.0 482.9,267.0 482.9,266.4 484.3,266.4 484.3,265.8 485.6,265.8 485.6,265.2 487.0,265.2 487.0,264.6 488.3,264.6 488.3,264.0 489.7,264.0 489.7,263.0 491.1,263.0 491.1,261.9 492.5,261.9 492.5,260.9 493.9,260.9 493.9,259.9 495.2,259.9 495.2,258.8 496.6,258.8 496.6,257.8 498.0,257.8 498.0,256.7 499.4,256.7 499.4,255.7 500.8,255.7 500.8,255.1 502.2,255.1 502.2,254.4 503.6,254.4 503.6,253.8 505.1,253.8 505.1,253.1 506.5,253.1 506.5,252.5 507.9,252.5 507.9,251.8 509.3,251.8 509.3,251.2 510.7,251.2 510.7,250.5 512.1,250.5 512.1,249.9 513.6,249.9 513.6,249.2 515.0,249.2 515.0,248.6 516.4,248.6 516.4,247.9 517.8,247.9 517.8,247.3 519.2,247.3 519.2,246.3 520.6,246.3 520.6,245.2 522.0,245.2 522.0,244.2 523.4,244.2 523.4,243.2 524.8,243.2 524.8,242.1 526.2,242.1 526.2,241.1 527.6,241.1 527.6,240.0 529.0,240.0 529.0,239.0 530.4,239.0 530.4,238.0 531.8,238.0 531.8,236.9 533.1,236.9 533.1,235.9 534.5,235.9 534.5,234.8 535.9,234.8 535.9,233.8 537.2,233.8 537.2,232.8 538.6,232.8 538.6,231.7 540.0,231.7 540.0,230.7 541.4,230.7 541.4,229.8 542.9,229.8 542.9,228.8 544.3,228.8 544.3,227.9 545.8,227.9 545.8,227.0 547.2,227.0 547.2,226.0 548.7,226.0 548.7,225.1 550.1,225.1 550.1,224.2 551.6,224.2 551.6,223.2 553.0,223.2 553.0,222.3" fill="none" stroke="#95c37d" stroke-width="2.8" stroke-linejoin="miter" stroke-linecap="butt"/>
<polyline points="296.1,376.7 297.5,376.7 297.5,375.4 298.8,375.4 298.8,374.0 300.2,374.0 300.2,372.7 301.5,372.7 301.5,371.3 302.9,371.3 302.9,370.0 304.2,370.0 304.2,368.7 305.6,368.7 305.6,367.3 306.9,367.3 306.9,366.0 308.2,366.0 308.2,364.6 309.6,364.6 309.6,363.3 311.0,363.3 311.0,362.3 312.4,362.3 312.4,361.4 313.8,361.4 313.8,360.4 315.2,360.4 315.2,359.4 316.6,359.4 316.6,358.5 318.0,358.5 318.0,357.5 319.4,357.5 319.4,356.6 320.7,356.6 320.7,355.6 322.1,355.6 322.1,354.6 323.5,354.6 323.5,353.7 324.9,353.7 324.9,352.7 326.3,352.7 326.3,351.7 327.7,351.7 327.7,350.8 329.1,350.8 329.1,349.8 330.5,349.8 330.5,348.7 332.0,348.7 332.0,347.6 333.4,347.6 333.4,346.4 334.8,346.4 334.8,345.3 336.3,345.3 336.3,344.2 337.7,344.2 337.7,343.1 339.1,343.1 339.1,342.0 340.6,342.0 340.6,340.9 342.0,340.9 342.0,339.8 343.4,339.8 343.4,338.6 344.9,338.6 344.9,337.5 346.3,337.5 346.3,336.4 347.7,336.4 347.7,335.8 349.1,335.8 349.1,335.2 350.5,335.2 350.5,334.7 351.9,334.7 351.9,334.1 353.3,334.1 353.3,333.5 354.7,333.5 354.7,332.9 356.1,332.9 356.1,332.4 357.5,332.4 357.5,331.8 358.8,331.8 358.8,331.2 360.2,331.2 360.2,330.6 361.6,330.6 361.6,330.1 363.0,330.1 363.0,329.5 364.4,329.5 364.4,328.9 365.8,328.9 365.8,328.3 367.2,328.3 367.2,327.8 368.6,327.8 368.6,327.2 370.0,327.2 370.0,326.6 371.4,326.6 371.4,325.7 372.8,325.7 372.8,324.8 374.2,324.8 374.2,323.9 375.6,323.9 375.6,323.0 377.1,323.0 377.1,322.1 378.5,322.1 378.5,321.2 379.9,321.2 379.9,320.3 381.3,320.3 381.3,319.4 382.7,319.4 382.7,318.7 384.1,318.7 384.1,318.0 385.6,318.0 385.6,317.3 387.0,317.3 387.0,316.5 388.4,316.5 388.4,315.8 389.8,315.8 389.8,315.1 391.2,315.1 391.2,314.4 392.7,314.4 392.7,313.7 394.1,313.7 394.1,313.0 395.5,313.0 395.5,312.3 396.9,312.3 396.9,311.6 398.3,311.6 398.3,310.8 399.8,310.8 399.8,310.1 401.2,310.1 401.2,309.4 402.6,309.4 402.6,308.7 404.0,308.7 404.0,308.0 405.4,308.0 405.4,307.3 406.8,307.3 406.8,306.6 408.3,306.6 408.3,305.9 409.7,305.9 409.7,305.2 411.1,305.2 411.1,304.5 412.5,304.5 412.5,303.8 413.9,303.8 413.9,303.0 415.3,303.0 415.3,302.3 416.7,302.3 416.7,301.6 418.1,301.6 418.1,300.9 419.6,300.9 419.6,300.2 421.0,300.2 421.0,299.5 422.4,299.5 422.4,298.8 423.8,298.8 423.8,298.1 425.2,298.1 425.2,297.6 426.6,297.6 426.6,297.1 428.1,297.1 428.1,296.6 429.5,296.6 429.5,296.1 430.9,296.1 430.9,295.6 432.3,295.6 432.3,295.1 433.7,295.1 433.7,294.6 435.2,294.6 435.2,294.1 436.6,294.1 436.6,293.6 438.0,293.6 438.0,293.1 439.4,293.1 439.4,292.6 440.8,292.6 440.8,292.1 442.3,292.1 442.3,291.6 443.7,291.6 443.7,291.1 445.1,291.1 445.1,290.6 446.5,290.6 446.5,289.8 447.9,289.8 447.9,289.1 449.3,289.1 449.3,288.3 450.8,288.3 450.8,287.5 452.2,287.5 452.2,286.7 453.6,286.7 453.6,286.0 455.0,286.0 455.0,285.2 456.4,285.2 456.4,284.5 457.8,284.5 457.8,283.8 459.3,283.8 459.3,283.1 460.7,283.1 460.7,282.4 462.1,282.4 462.1,281.7 463.5,281.7 463.5,281.0 465.0,281.0 465.0,280.2 466.4,280.2 466.4,279.5 467.8,279.5 467.8,278.8 469.2,278.8 469.2,278.1 470.7,278.1 470.7,277.4 472.1,277.4 472.1,276.7 473.5,276.7 473.5,276.0 474.9,276.0 474.9,275.4 476.3,275.4 476.3,274.7 477.8,274.7 477.8,274.1 479.2,274.1 479.2,273.4 480.6,273.4 480.6,272.8 482.0,272.8 482.0,272.2 483.5,272.2 483.5,271.5 484.9,271.5 484.9,270.9 486.3,270.9 486.3,270.3 487.7,270.3 487.7,269.6 489.2,269.6 489.2,269.0 490.6,269.0 490.6,268.3 492.0,268.3 492.0,267.7 493.3,267.7 493.3,266.9 494.7,266.9 494.7,266.2 496.0,266.2 496.0,265.4 497.4,265.4 497.4,264.7 498.7,264.7 498.7,263.9 500.1,263.9 500.1,263.2 501.4,263.2 501.4,262.4 502.8,262.4 502.8,261.7 504.1,261.7 504.1,260.9 505.5,260.9 505.5,260.2 506.8,260.2 506.8,259.4 508.2,259.4 508.2,258.5 509.6,258.5 509.6,257.7 510.9,257.7 510.9,256.8 512.3,256.8 512.3,256.0 513.7,256.0 513.7,255.1 515.1,255.1 515.1,254.3 516.5,254.3 516.5,253.4 517.9,253.4 517.9,252.6 519.2,252.6 519.2,251.8 520.6,251.8 520.6,250.9 522.0,250.9 522.0,250.0 523.4,250.0 523.4,249.2 524.7,249.2 524.7,247.7 526.0,247.7 526.0,246.3 527.3,246.3 527.3,244.8 528.7,244.8 528.7,243.4 530.0,243.4 530.0,241.9 531.3,241.9 531.3,240.5 532.6,240.5 532.6,239.0 534.0,239.0 534.0,237.9 535.3,237.9 535.3,236.8 536.7,236.8 536.7,235.7 538.0,235.7 538.0,234.5 539.4,234.5 539.4,233.4 540.8,233.4 540.8,232.3 542.1,232.3 542.1,231.2 543.5,231.2 543.5,230.1 544.8,230.1 544.8,229.0 546.2,229.0 546.2,227.9 547.6,227.9 547.6,226.8 548.9,226.8 548.9,225.6 550.3,225.6 550.3,224.5 551.6,224.5 551.6,223.4 553.0,223.4 553.0,222.3" fill="none" stroke="#f2d267" stroke-width="2.8" stroke-linejoin="miter" stroke-linecap="butt"/>
<polyline points="296.1,392.6 297.5,392.6 297.5,391.3 298.9,391.3 298.9,390.0 300.3,390.0 300.3,388.7 301.8,388.7 301.8,387.3 303.2,387.3 303.2,386.0 304.6,386.0 304.6,384.7 306.0,384.7 306.0,383.4 307.4,383.4 307.4,382.1 308.8,382.1 308.8,380.8 310.3,380.8 310.3,379.4 311.7,379.4 311.7,378.1 313.1,378.1 313.1,376.8 314.5,376.8 314.5,375.5 315.9,375.5 315.9,374.3 317.3,374.3 317.3,373.1 318.7,373.1 318.7,371.8 320.1,371.8 320.1,370.6 321.5,370.6 321.5,369.4 322.9,369.4 322.9,368.2 324.2,368.2 324.2,366.9 325.6,366.9 325.6,365.7 327.0,365.7 327.0,364.5 328.4,364.5 328.4,363.3 329.8,363.3 329.8,362.1 331.2,362.1 331.2,360.8 332.6,360.8 332.6,359.6 334.0,359.6 334.0,358.4 335.4,358.4 335.4,357.0 336.8,357.0 336.8,355.6 338.2,355.6 338.2,354.2 339.6,354.2 339.6,352.8 341.0,352.8 341.0,351.4 342.4,351.4 342.4,350.0 343.8,350.0 343.8,348.6 345.2,348.6 345.2,347.2 346.6,347.2 346.6,345.8 348.0,345.8 348.0,344.4 349.4,344.4 349.4,343.0 350.8,343.0 350.8,341.6 352.2,341.6 352.2,340.2 353.6,340.2 353.6,338.8 355.0,338.8 355.0,338.3 356.3,338.3 356.3,337.8 357.7,337.8 357.7,337.2 359.1,337.2 359.1,336.7 360.4,336.7 360.4,336.2 361.8,336.2 361.8,335.6 363.2,335.6 363.2,335.1 364.5,335.1 364.5,334.6 365.9,334.6 365.9,334.1 367.3,334.1 367.3,333.6 368.6,333.6 368.6,333.0 370.0,333.0 370.0,332.5 371.4,332.5 371.4,331.8 372.8,331.8 372.8,331.1 374.2,331.1 374.2,330.3 375.6,330.3 375.6,329.6 377.0,329.6 377.0,328.9 378.4,328.9 378.4,328.2 379.8,328.2 379.8,327.6 381.3,327.6 381.3,326.9 382.7,326.9 382.7,326.3 384.1,326.3 384.1,325.6 385.5,325.6 385.5,325.0 387.0,325.0 387.0,324.3 388.4,324.3 388.4,323.7 389.8,323.7 389.8,323.0 391.2,323.0 391.2,322.4 392.6,322.4 392.6,321.8 394.1,321.8 394.1,321.1 395.5,321.1 395.5,320.4 396.9,320.4 396.9,319.8 398.3,319.8 398.3,319.1 399.8,319.1 399.8,318.5 401.2,318.5 401.2,317.8 402.6,317.8 402.6,317.2 404.0,317.2 404.0,316.6 405.4,316.6 405.4,316.1 406.8,316.1 406.8,315.5 408.3,315.5 408.3,314.9 409.7,314.9 409.7,314.4 411.1,314.4 411.1,313.8 412.5,313.8 412.5,313.2 413.9,313.2 413.9,312.7 415.3,312.7 415.3,312.1 416.7,312.1 416.7,311.5 418.1,311.5 418.1,311.0 419.6,311.0 419.6,310.4 421.0,310.4 421.0,309.8 422.4,309.8 422.4,309.3 423.8,309.3 423.8,308.7 425.2,308.7 425.2,308.0 426.6,308.0 426.6,307.3 428.1,307.3 428.1,306.6 429.5,306.6 429.5,305.9 430.9,305.9 430.9,305.2 432.3,305.2 432.3,304.5 433.7,304.5 433.7,303.8 435.2,303.8 435.2,303.0 436.6,303.0 436.6,302.3 438.0,302.3 438.0,301.6 439.4,301.6 439.4,300.9 440.8,300.9 440.8,300.2 442.3,300.2 442.3,299.5 443.7,299.5 443.7,298.8 445.1,298.8 445.1,298.1 446.5,298.1 446.5,297.2 447.9,297.2 447.9,296.3 449.3,296.3 449.3,295.4 450.8,295.4 450.8,294.4 452.2,294.4 452.2,293.5 453.6,293.5 453.6,292.6 455.0,292.6 455.0,291.7 456.4,291.7 456.4,291.0 457.8,291.0 457.8,290.3 459.3,290.3 459.3,289.6 460.7,289.6 460.7,288.9 462.1,288.9 462.1,288.2 463.5,288.2 463.5,287.5 465.0,287.5 465.0,286.7 466.4,286.7 466.4,286.0 467.8,286.0 467.8,285.3 469.2,285.3 469.2,284.6 470.7,284.6 470.7,283.9 472.1,283.9 472.1,283.2 473.5,283.2 473.5,282.5 474.8,282.5 474.8,281.8 476.2,281.8 476.2,281.2 477.5,281.2 477.5,280.5 478.9,280.5 478.9,279.8 480.2,279.8 480.2,279.1 481.6,279.1 481.6,278.5 482.9,278.5 482.9,277.8 484.3,277.8 484.3,277.1 485.6,277.1 485.6,276.4 487.0,276.4 487.0,275.8 488.3,275.8 488.3,275.1 489.7,275.1 489.7,274.1 491.1,274.1 491.1,273.1 492.6,273.1 492.6,272.1 494.0,272.1 494.0,271.1 495.4,271.1 495.4,270.1 496.8,270.1 496.8,269.1 498.3,269.1 498.3,268.1 499.7,268.1 499.7,267.1 501.1,267.1 501.1,266.1 502.5,266.1 502.5,265.1 504.0,265.1 504.0,264.1 505.4,264.1 505.4,263.1 506.8,263.1 506.8,262.1 508.2,262.1 508.2,261.2 509.6,261.2 509.6,260.3 511.0,260.3 511.0,259.3 512.5,259.3 512.5,258.4 513.9,258.4 513.9,257.5 515.3,257.5 515.3,256.6 516.7,256.6 516.7,255.6 518.1,255.6 518.1,254.7 519.5,254.7 519.5,253.8 521.0,253.8 521.0,252.9 522.4,252.9 522.4,251.9 523.8,251.9 523.8,251.0 525.2,251.0 525.2,250.1 526.7,250.1 526.7,248.1 528.2,248.1 528.2,246.1 529.6,246.1 529.6,244.0 531.1,244.0 531.1,242.0 532.6,242.0 532.6,240.0 533.9,240.0 533.9,238.7 535.3,238.7 535.3,237.3 536.6,237.3 536.6,236.0 537.9,236.0 537.9,234.7 539.2,234.7 539.2,233.4 540.6,233.4 540.6,232.0 541.9,232.0 541.9,230.7 543.2,230.7 543.2,229.8 544.6,229.8 544.6,228.8 545.9,228.8 545.9,227.9 547.2,227.9 547.2,227.0 548.6,227.0 548.6,226.0 549.9,226.0 549.9,225.1 551.2,225.1 551.2,224.2 552.6,224.2 552.6,223.2 553.9,223.2 553.9,222.3" fill="none" stroke="#db3a3c" stroke-width="2.8" stroke-linejoin="miter" stroke-linecap="butt"/>
<rect x="7.5" y="218.5" width="86.5" height="72.5" rx="2.5" fill="#fff" stroke="#d6d6d6" stroke-width="1"/>
<rect x="12.5" y="223.5" width="24" height="8.6" fill="#9ac8dc"/>
<text x="45.7" y="232.3" class="lg" textLength="36.3" lengthAdjust="spacingAndGlyphs">α=0%</text>
<rect x="12.5" y="240.9" width="24" height="8.6" fill="#95c37d"/>
<text x="45.7" y="249.7" class="lg" textLength="36.3" lengthAdjust="spacingAndGlyphs">α=5%</text>
<rect x="12.5" y="258.3" width="24" height="8.6" fill="#f2d267"/>
<text x="45.7" y="267.1" class="lg" textLength="43.9" lengthAdjust="spacingAndGlyphs">α=10%</text>
<rect x="12.5" y="275.7" width="24" height="8.6" fill="#db3a3c"/>
<text x="45.7" y="284.5" class="lg" textLength="43.9" lengthAdjust="spacingAndGlyphs">α=20%</text>
<rect x="290.5" y="218.5" width="86.5" height="72.5" rx="2.5" fill="#fff" stroke="#d6d6d6" stroke-width="1"/>
<rect x="295.5" y="223.5" width="24" height="8.6" fill="#9ac8dc"/>
<text x="328.7" y="232.3" class="lg" textLength="36.3" lengthAdjust="spacingAndGlyphs">α=0%</text>
<rect x="295.5" y="240.9" width="24" height="8.6" fill="#95c37d"/>
<text x="328.7" y="249.7" class="lg" textLength="36.3" lengthAdjust="spacingAndGlyphs">α=5%</text>
<rect x="295.5" y="258.3" width="24" height="8.6" fill="#f2d267"/>
<text x="328.7" y="267.1" class="lg" textLength="43.9" lengthAdjust="spacingAndGlyphs">α=10%</text>
<rect x="295.5" y="275.7" width="24" height="8.6" fill="#db3a3c"/>
<text x="328.7" y="284.5" class="lg" textLength="43.9" lengthAdjust="spacingAndGlyphs">α=20%</text>
<rect x="0" y="0" width="568" height="1" fill="#8c8c8c"/>
<rect x="0" y="1" width="568" height="1" fill="#787878"/>
<g shape-rendering="crispEdges">
<rect x="1" y="2" width="1" height="422" fill="#111"/>
<rect x="142" y="2" width="1" height="211" fill="#111"/>
<rect x="283" y="2" width="1" height="422" fill="#111"/>
<rect x="284" y="2" width="1" height="422" fill="#555"/>
<rect x="424" y="2" width="1" height="211" fill="#888"/>
<rect x="425" y="2" width="1" height="211" fill="#444"/>
<rect x="566" y="2" width="1" height="422" fill="#111"/>
<rect x="1" y="106" width="566" height="1" fill="#111"/>
<rect x="1" y="212" width="566" height="1" fill="#111"/>
<rect x="1" y="423" width="566" height="1" fill="#111"/>
</g>
<g stroke="#000" stroke-width="1">
<line x1="14.3" y1="423" x2="14.3" y2="427"/>
<line x1="296.3" y1="423" x2="296.3" y2="427"/>
<line x1="78.4" y1="423" x2="78.4" y2="427"/>
<line x1="360.9" y1="423" x2="360.9" y2="427"/>
<line x1="142.5" y1="423" x2="142.5" y2="427"/>
<line x1="425.5" y1="423" x2="425.5" y2="427"/>
<line x1="206.6" y1="423" x2="206.6" y2="427"/>
<line x1="490.1" y1="423" x2="490.1" y2="427"/>
<line x1="270.7" y1="423" x2="270.7" y2="427"/>
<line x1="554.7" y1="423" x2="554.7" y2="427"/>
</g>
<text x="14.3" y="439.1" class="tk" textLength="6.7" lengthAdjust="spacingAndGlyphs">0</text>
<text x="296.3" y="439.1" class="tk" textLength="6.7" lengthAdjust="spacingAndGlyphs">0</text>
<text x="78.4" y="439.1" class="tk" textLength="17.6" lengthAdjust="spacingAndGlyphs">0.5</text>
<text x="360.9" y="439.1" class="tk" textLength="17.6" lengthAdjust="spacingAndGlyphs">0.5</text>
<text x="142.5" y="439.1" class="tk" textLength="6.3" lengthAdjust="spacingAndGlyphs">1</text>
<text x="425.5" y="439.1" class="tk" textLength="6.3" lengthAdjust="spacingAndGlyphs">1</text>
<text x="206.6" y="439.1" class="tk" textLength="17.2" lengthAdjust="spacingAndGlyphs">1.5</text>
<text x="490.1" y="439.1" class="tk" textLength="17.2" lengthAdjust="spacingAndGlyphs">1.5</text>
<text x="270.7" y="439.1" class="tk" textLength="6.7" lengthAdjust="spacingAndGlyphs">2</text>
<text x="554.7" y="439.1" class="tk" textLength="6.7" lengthAdjust="spacingAndGlyphs">2</text>
<text x="142.8" y="453.7" class="tk" style="font-size:15px" textLength="7.2" lengthAdjust="spacingAndGlyphs">λ</text>
<text x="425.8" y="453.7" class="tk" style="font-size:15px" textLength="7.2" lengthAdjust="spacingAndGlyphs">λ</text>
<text x="143.1" y="467.2" class="tk" textLength="16.8" lengthAdjust="spacingAndGlyphs">(a)</text>
<text x="425.2" y="467.2" class="tk" textLength="16.8" lengthAdjust="spacingAndGlyphs">(b)</text>
</svg>
</body></html>
